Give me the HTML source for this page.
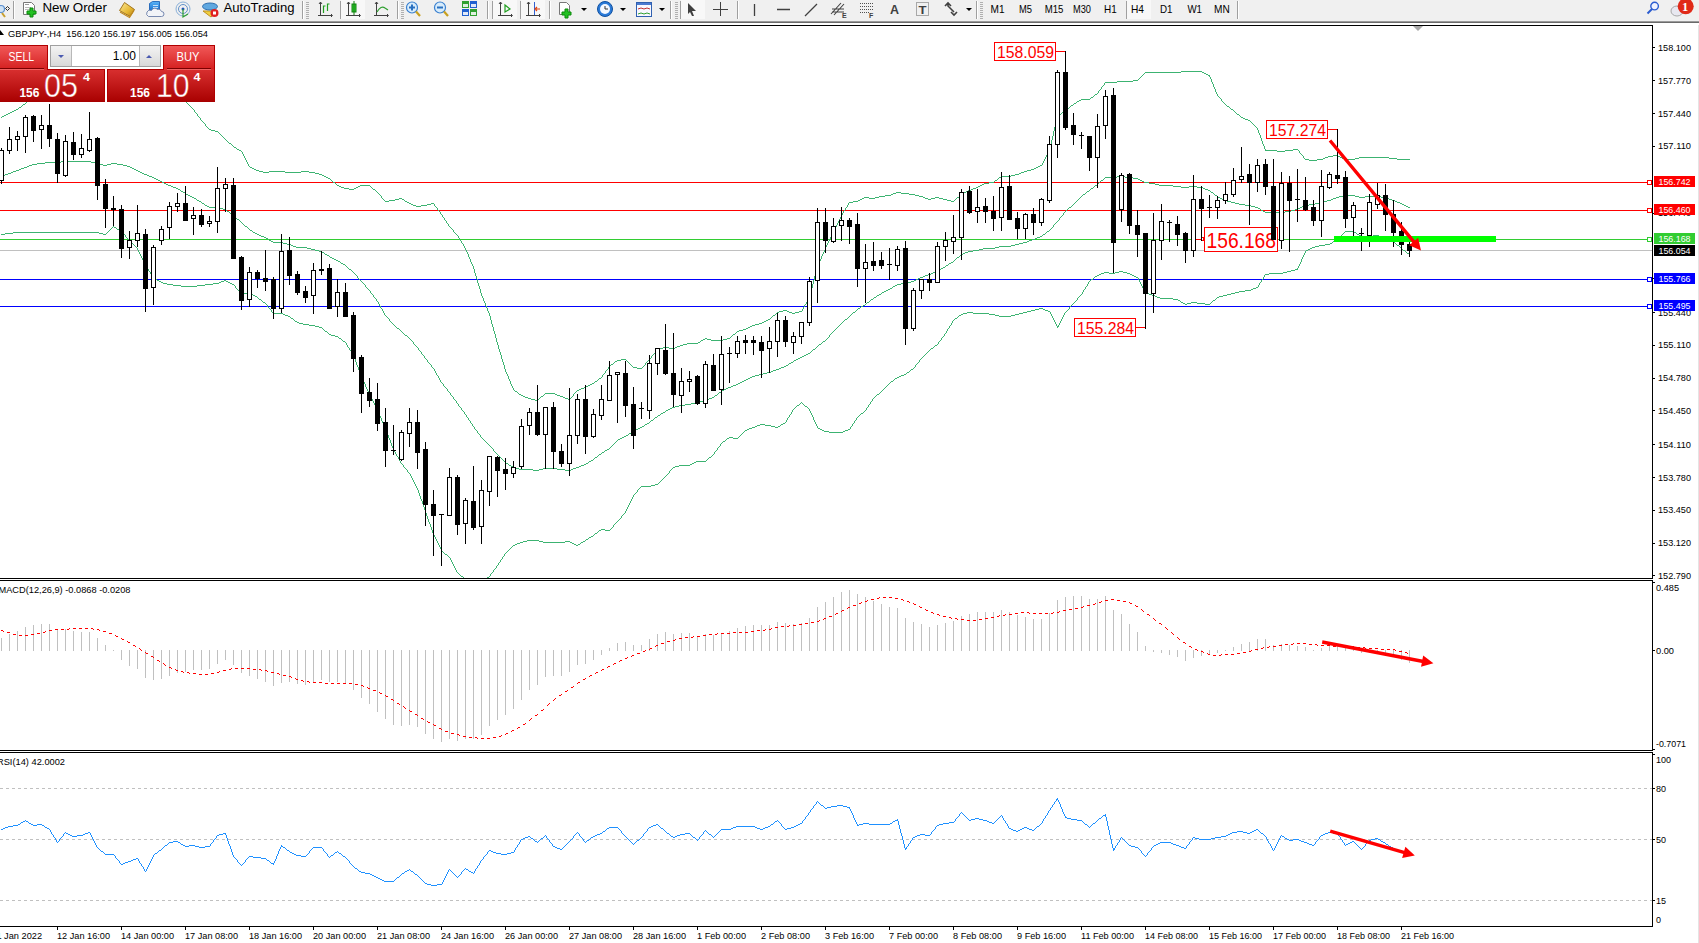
<!DOCTYPE html><html><head><meta charset="utf-8"><style>
html,body{margin:0;padding:0;width:1699px;height:943px;overflow:hidden;background:#fff;}
svg{display:block;position:absolute;left:0;top:0;}
text{font-family:"Liberation Sans",sans-serif;}
.serif{font-family:"Liberation Serif",serif;}
</style></head><body>
<svg width="1699" height="943" viewBox="0 0 1699 943">
<defs><clipPath id="cm"><rect x="0" y="26" width="1652" height="552"/></clipPath><clipPath id="cmacd"><rect x="0" y="581" width="1652" height="169"/></clipPath><clipPath id="crsi"><rect x="0" y="753" width="1652" height="173"/></clipPath><linearGradient id="gbtn" x1="0" y1="0" x2="0" y2="1"><stop offset="0" stop-color="#f25a5a"/><stop offset="1" stop-color="#d52121"/></linearGradient><linearGradient id="gprice" x1="0" y1="0" x2="0" y2="1"><stop offset="0" stop-color="#d93030"/><stop offset="1" stop-color="#a80000"/></linearGradient><linearGradient id="glot" x1="0" y1="0" x2="0" y2="1"><stop offset="0" stop-color="#f4f4f4"/><stop offset="1" stop-color="#d8d8d8"/></linearGradient></defs>
<rect x="0" y="0" width="1699" height="943" fill="#fff"/>
<g clip-path="url(#cm)" shape-rendering="crispEdges">
<rect x="0" y="182" width="1652" height="1" fill="#ff0000"/>
<rect x="0" y="210" width="1652" height="1" fill="#ff0000"/>
<rect x="0" y="239" width="1652" height="1" fill="#32cd32"/>
<rect x="0" y="250" width="1652" height="1" fill="#c0c0c0"/>
<rect x="0" y="279" width="1652" height="1" fill="#0000ff"/>
<rect x="0" y="306" width="1652" height="1" fill="#0000ff"/>
<rect x="1647.5" y="180.5" width="4" height="4" fill="#fff" stroke="#ff0000" stroke-width="1"/>
<rect x="1647.5" y="208.5" width="4" height="4" fill="#fff" stroke="#ff0000" stroke-width="1"/>
<rect x="1647.5" y="237.5" width="4" height="4" fill="#fff" stroke="#32cd32" stroke-width="1"/>
<rect x="1647.5" y="277.5" width="4" height="4" fill="#fff" stroke="#0000ff" stroke-width="1"/>
<rect x="1647.5" y="304.5" width="4" height="4" fill="#fff" stroke="#0000ff" stroke-width="1"/>
<path d="M2 116h2v1h-2zM4 115h2v1h-2zM6 114h2v1h-2zM8 113h2v1h-2zM10 112h2v1h-2zM12 111h2v1h-2zM14 110h2v1h-2zM16 109h2v1h-2zM19 107h2v1h-2zM23 104h2v1h-2zM27 101h2v1h-2zM31 98h2v1h-2zM34 96h2v1h-2zM37 94h2v1h-2zM39 93h2v1h-2zM42 91h2v1h-2zM44 90h2v1h-2zM46 89h2v1h-2zM48 88h3v1h-3zM51 87h2v1h-2zM53 86h3v1h-3zM56 85h3v1h-3zM59 84h2v1h-2zM61 83h3v1h-3zM64 82h3v1h-3zM67 81h4v1h-4zM71 80h4v1h-4zM75 79h4v1h-4zM79 78h6v1h-6zM85 77h8v1h-8zM93 76h8v1h-8zM101 75h8v1h-8zM109 74h16v1h-16zM125 75h8v1h-8zM133 76h8v1h-8zM141 77h8v1h-8zM149 78h6v1h-6zM155 79h4v1h-4zM159 80h3v1h-3zM162 81h2v1h-2zM165 83h2v1h-2zM167 84h2v1h-2zM171 87h2v1h-2zM175 90h2v1h-2zM209 129h2v1h-2zM211 130h4v1h-4zM215 131h3v1h-3zM229 143h2v1h-2zM234 147h2v1h-2zM237 149h2v1h-2zM239 150h2v1h-2zM250 167h2v1h-2zM252 168h2v1h-2zM254 169h2v1h-2zM256 170h3v1h-3zM259 171h4v1h-4zM263 172h6v1h-6zM269 171h16v1h-16zM285 172h16v1h-16zM301 171h8v1h-8zM309 172h6v1h-6zM315 173h4v1h-4zM319 174h3v1h-3zM322 175h2v1h-2zM324 176h2v1h-2zM326 177h2v1h-2zM328 178h2v1h-2zM333 182h2v1h-2zM337 185h2v1h-2zM339 186h2v1h-2zM341 187h3v1h-3zM344 188h5v1h-5zM349 189h5v1h-5zM354 188h2v1h-2zM356 187h2v1h-2zM358 186h2v1h-2zM360 185h10v1h-10zM373 189h2v1h-2zM385 201h4v1h-4zM389 200h6v1h-6zM395 199h4v1h-4zM399 198h3v1h-3zM402 199h2v1h-2zM405 201h2v1h-2zM407 202h2v1h-2zM409 203h2v1h-2zM411 204h2v1h-2zM413 205h3v1h-3zM416 206h5v1h-5zM421 205h6v1h-6zM427 204h4v1h-4zM431 203h3v1h-3zM515 391h2v1h-2zM519 394h2v1h-2zM521 395h2v1h-2zM523 396h2v1h-2zM525 397h3v1h-3zM528 398h3v1h-3zM531 399h4v1h-4zM535 400h3v1h-3zM541 396h2v1h-2zM545 393h10v1h-10zM555 394h2v1h-2zM557 395h3v1h-3zM560 396h3v1h-3zM563 397h2v1h-2zM565 398h3v1h-3zM568 399h2v1h-2zM577 390h2v1h-2zM579 389h2v1h-2zM581 388h3v1h-3zM584 387h2v1h-2zM586 386h2v1h-2zM588 385h2v1h-2zM590 384h2v1h-2zM592 383h2v1h-2zM595 381h2v1h-2zM599 378h2v1h-2zM611 364h2v1h-2zM615 361h2v1h-2zM617 360h4v1h-4zM621 359h5v1h-5zM633 367h4v1h-4zM637 368h5v1h-5zM657 349h2v1h-2zM659 348h4v1h-4zM663 347h6v1h-6zM669 348h6v1h-6zM675 347h2v1h-2zM677 346h3v1h-3zM680 345h3v1h-3zM683 344h4v1h-4zM687 343h11v1h-11zM698 342h2v1h-2zM701 340h2v1h-2zM703 339h2v1h-2zM705 338h2v1h-2zM707 339h4v1h-4zM711 340h12v1h-12zM723 339h4v1h-4zM727 338h3v1h-3zM733 334h2v1h-2zM737 331h2v1h-2zM739 330h4v1h-4zM743 329h3v1h-3zM746 328h2v1h-2zM748 327h2v1h-2zM750 326h2v1h-2zM752 325h3v1h-3zM755 324h4v1h-4zM759 323h3v1h-3zM762 322h2v1h-2zM764 321h2v1h-2zM766 320h2v1h-2zM768 319h2v1h-2zM773 315h2v1h-2zM777 312h2v1h-2zM779 311h4v1h-4zM783 310h4v1h-4zM787 311h2v1h-2zM789 312h3v1h-3zM792 313h3v1h-3zM795 312h4v1h-4zM799 311h3v1h-3zM849 202h4v1h-4zM853 201h5v1h-5zM858 200h2v1h-2zM860 199h2v1h-2zM862 198h2v1h-2zM864 197h5v1h-5zM869 198h6v1h-6zM875 197h4v1h-4zM879 196h6v1h-6zM885 195h6v1h-6zM891 194h2v1h-2zM893 193h3v1h-3zM896 192h5v1h-5zM901 193h8v1h-8zM909 194h6v1h-6zM915 195h4v1h-4zM919 196h4v1h-4zM923 197h2v1h-2zM925 198h3v1h-3zM928 199h3v1h-3zM931 198h4v1h-4zM935 197h4v1h-4zM939 198h4v1h-4zM943 199h4v1h-4zM947 200h4v1h-4zM951 201h3v1h-3zM957 197h2v1h-2zM962 193h2v1h-2zM964 192h2v1h-2zM966 191h2v1h-2zM968 190h3v1h-3zM971 189h2v1h-2zM973 188h3v1h-3zM976 187h2v1h-2zM978 186h2v1h-2zM980 185h2v1h-2zM982 184h2v1h-2zM984 183h5v1h-5zM989 182h5v1h-5zM995 180h2v1h-2zM999 177h2v1h-2zM1001 176h10v1h-10zM1011 175h4v1h-4zM1015 174h4v1h-4zM1019 173h2v1h-2zM1021 172h3v1h-3zM1024 171h3v1h-3zM1027 170h4v1h-4zM1031 169h3v1h-3zM1034 168h2v1h-2zM1036 167h2v1h-2zM1038 166h2v1h-2zM1040 165h2v1h-2zM1059 114h2v1h-2zM1063 111h2v1h-2zM1067 108h2v1h-2zM1071 105h2v1h-2zM1074 103h2v1h-2zM1077 101h2v1h-2zM1079 100h2v1h-2zM1081 99h9v1h-9zM1091 97h2v1h-2zM1095 94h2v1h-2zM1105 82h12v1h-12zM1117 81h16v1h-16zM1133 80h5v1h-5zM1145 72h36v1h-36zM1181 71h21v1h-21zM1202 72h2v1h-2zM1204 73h2v1h-2zM1206 74h2v1h-2zM1208 75h2v1h-2zM1227 106h2v1h-2zM1231 109h2v1h-2zM1237 114h2v1h-2zM1241 117h2v1h-2zM1243 118h2v1h-2zM1245 119h3v1h-3zM1248 120h2v1h-2zM1265 150h12v1h-12zM1277 151h8v1h-8zM1285 150h8v1h-8zM1293 149h5v1h-5zM1305 159h4v1h-4zM1309 160h8v1h-8zM1317 159h6v1h-6zM1323 158h2v1h-2zM1325 157h3v1h-3zM1328 156h5v1h-5zM1333 155h5v1h-5zM1338 156h2v1h-2zM1340 157h2v1h-2zM1342 158h2v1h-2zM1344 159h11v1h-11zM1355 158h4v1h-4zM1359 157h30v1h-30zM1389 158h8v1h-8zM1397 159h13v1h-13zM1 117h1v1h-1zM18 108h1v1h-1zM21 106h1v1h-1zM22 105h1v1h-1zM25 103h1v1h-1zM26 102h1v1h-1zM29 100h1v1h-1zM30 99h1v1h-1zM33 97h1v1h-1zM36 95h1v1h-1zM41 92h1v1h-1zM164 82h1v1h-1zM169 85h1v1h-1zM170 86h1v1h-1zM173 88h1v1h-1zM174 89h1v1h-1zM177 91h1v1h-1zM178 92h1v1h-1zM179 93h1v2h-1zM180 95h1v1h-1zM181 96h1v1h-1zM182 97h1v1h-1zM183 98h1v2h-1zM184 100h1v1h-1zM185 101h1v1h-1zM186 102h1v1h-1zM187 103h1v1h-1zM188 104h1v1h-1zM189 105h1v1h-1zM190 106h1v1h-1zM191 107h1v1h-1zM192 108h1v1h-1zM193 109h1v1h-1zM194 110h1v2h-1zM195 112h1v1h-1zM196 113h1v1h-1zM197 114h1v2h-1zM198 116h1v1h-1zM199 117h1v1h-1zM200 118h1v2h-1zM201 120h1v1h-1zM202 121h1v1h-1zM203 122h1v1h-1zM204 123h1v1h-1zM205 124h1v2h-1zM206 126h1v1h-1zM207 127h1v1h-1zM208 128h1v1h-1zM218 132h1v1h-1zM219 133h1v1h-1zM220 134h1v1h-1zM221 135h1v1h-1zM222 136h1v1h-1zM223 137h1v1h-1zM224 138h1v1h-1zM225 139h1v1h-1zM226 140h1v1h-1zM227 141h1v1h-1zM228 142h1v1h-1zM231 144h1v1h-1zM232 145h1v1h-1zM233 146h1v1h-1zM236 148h1v1h-1zM241 151h1v1h-1zM242 152h1v2h-1zM243 154h1v2h-1zM244 156h1v2h-1zM245 158h1v2h-1zM246 160h1v2h-1zM247 162h1v2h-1zM248 164h1v2h-1zM249 166h1v1h-1zM330 179h1v1h-1zM331 180h1v1h-1zM332 181h1v1h-1zM335 183h1v1h-1zM336 184h1v1h-1zM370 186h1v1h-1zM371 187h1v1h-1zM372 188h1v1h-1zM375 190h1v1h-1zM376 191h1v1h-1zM377 192h1v1h-1zM378 193h1v1h-1zM379 194h1v1h-1zM380 195h1v1h-1zM381 196h1v2h-1zM382 198h1v1h-1zM383 199h1v1h-1zM384 200h1v1h-1zM404 200h1v1h-1zM434 204h1v2h-1zM435 206h1v1h-1zM436 207h1v1h-1zM437 208h1v2h-1zM438 210h1v1h-1zM439 211h1v1h-1zM440 212h1v2h-1zM441 214h1v1h-1zM442 215h1v2h-1zM443 217h1v1h-1zM444 218h1v2h-1zM445 220h1v1h-1zM446 221h1v2h-1zM447 223h1v1h-1zM448 224h1v2h-1zM449 226h1v1h-1zM450 227h1v1h-1zM451 228h1v1h-1zM452 229h1v1h-1zM453 230h1v2h-1zM454 232h1v1h-1zM455 233h1v1h-1zM456 234h1v1h-1zM457 235h1v1h-1zM458 236h1v2h-1zM459 238h1v2h-1zM460 240h1v1h-1zM461 241h1v2h-1zM462 243h1v1h-1zM463 244h1v2h-1zM464 246h1v2h-1zM465 248h1v2h-1zM466 250h1v2h-1zM467 252h1v2h-1zM468 254h1v3h-1zM469 257h1v2h-1zM470 259h1v3h-1zM471 262h1v2h-1zM472 264h1v2h-1zM473 266h1v3h-1zM474 269h1v4h-1zM475 273h1v3h-1zM476 276h1v3h-1zM477 279h1v4h-1zM478 283h1v3h-1zM479 286h1v3h-1zM480 289h1v4h-1zM481 293h1v3h-1zM482 296h1v2h-1zM483 298h1v3h-1zM484 301h1v2h-1zM485 303h1v3h-1zM486 306h1v2h-1zM487 308h1v3h-1zM488 311h1v2h-1zM489 313h1v3h-1zM490 316h1v4h-1zM491 320h1v4h-1zM492 324h1v3h-1zM493 327h1v4h-1zM494 331h1v3h-1zM495 334h1v4h-1zM496 338h1v4h-1zM497 342h1v3h-1zM498 345h1v4h-1zM499 349h1v3h-1zM500 352h1v3h-1zM501 355h1v4h-1zM502 359h1v3h-1zM503 362h1v3h-1zM504 365h1v4h-1zM505 369h1v3h-1zM506 372h1v2h-1zM507 374h1v2h-1zM508 376h1v3h-1zM509 379h1v2h-1zM510 381h1v3h-1zM511 384h1v2h-1zM512 386h1v2h-1zM513 388h1v2h-1zM514 390h1v1h-1zM517 392h1v1h-1zM518 393h1v1h-1zM538 399h1v1h-1zM539 398h1v1h-1zM540 397h1v1h-1zM543 395h1v1h-1zM544 394h1v1h-1zM570 398h1v1h-1zM571 397h1v1h-1zM572 396h1v1h-1zM573 394h1v2h-1zM574 393h1v1h-1zM575 392h1v1h-1zM576 391h1v1h-1zM594 382h1v1h-1zM597 380h1v1h-1zM598 379h1v1h-1zM601 377h1v1h-1zM602 375h1v2h-1zM603 374h1v1h-1zM604 373h1v1h-1zM605 371h1v2h-1zM606 370h1v1h-1zM607 369h1v1h-1zM608 367h1v2h-1zM609 366h1v1h-1zM610 365h1v1h-1zM613 363h1v1h-1zM614 362h1v1h-1zM626 360h1v1h-1zM627 361h1v1h-1zM628 362h1v1h-1zM629 363h1v1h-1zM630 364h1v1h-1zM631 365h1v1h-1zM632 366h1v1h-1zM642 367h1v1h-1zM643 366h1v1h-1zM644 365h1v1h-1zM645 363h1v2h-1zM646 362h1v1h-1zM647 361h1v1h-1zM648 360h1v1h-1zM649 359h1v1h-1zM650 358h1v1h-1zM651 356h1v2h-1zM652 355h1v1h-1zM653 354h1v1h-1zM654 353h1v1h-1zM655 351h1v2h-1zM656 350h1v1h-1zM700 341h1v1h-1zM730 337h1v1h-1zM731 336h1v1h-1zM732 335h1v1h-1zM735 333h1v1h-1zM736 332h1v1h-1zM770 318h1v1h-1zM771 317h1v1h-1zM772 316h1v1h-1zM775 314h1v1h-1zM776 313h1v1h-1zM802 309h1v2h-1zM803 307h1v2h-1zM804 305h1v2h-1zM805 304h1v1h-1zM806 302h1v2h-1zM807 300h1v2h-1zM808 298h1v2h-1zM809 296h1v2h-1zM810 292h1v4h-1zM811 288h1v4h-1zM812 284h1v4h-1zM813 280h1v4h-1zM814 276h1v4h-1zM815 272h1v4h-1zM816 268h1v4h-1zM817 265h1v3h-1zM818 263h1v2h-1zM819 261h1v2h-1zM820 259h1v2h-1zM821 256h1v3h-1zM822 254h1v2h-1zM823 252h1v2h-1zM824 250h1v2h-1zM825 247h1v3h-1zM826 245h1v2h-1zM827 243h1v2h-1zM828 241h1v2h-1zM829 239h1v2h-1zM830 237h1v2h-1zM831 235h1v2h-1zM832 233h1v2h-1zM833 231h1v2h-1zM834 229h1v2h-1zM835 227h1v2h-1zM836 225h1v2h-1zM837 223h1v2h-1zM838 221h1v2h-1zM839 219h1v2h-1zM840 217h1v2h-1zM841 215h1v2h-1zM842 213h1v2h-1zM843 211h1v2h-1zM844 210h1v1h-1zM845 208h1v2h-1zM846 207h1v1h-1zM847 205h1v2h-1zM848 203h1v2h-1zM954 200h1v1h-1zM955 199h1v1h-1zM956 198h1v1h-1zM959 196h1v1h-1zM960 195h1v1h-1zM961 194h1v1h-1zM994 181h1v1h-1zM997 179h1v1h-1zM998 178h1v1h-1zM1042 163h1v2h-1zM1043 161h1v2h-1zM1044 159h1v2h-1zM1045 157h1v2h-1zM1046 155h1v2h-1zM1047 153h1v2h-1zM1048 151h1v2h-1zM1049 148h1v3h-1zM1050 144h1v4h-1zM1051 140h1v4h-1zM1052 136h1v4h-1zM1053 131h1v5h-1zM1054 127h1v4h-1zM1055 123h1v4h-1zM1056 119h1v4h-1zM1057 116h1v3h-1zM1058 115h1v1h-1zM1061 113h1v1h-1zM1062 112h1v1h-1zM1065 110h1v1h-1zM1066 109h1v1h-1zM1069 107h1v1h-1zM1070 106h1v1h-1zM1073 104h1v1h-1zM1076 102h1v1h-1zM1090 98h1v1h-1zM1093 96h1v1h-1zM1094 95h1v1h-1zM1097 93h1v1h-1zM1098 91h1v2h-1zM1099 90h1v1h-1zM1100 89h1v1h-1zM1101 87h1v2h-1zM1102 86h1v1h-1zM1103 85h1v1h-1zM1104 83h1v2h-1zM1138 79h1v1h-1zM1139 78h1v1h-1zM1140 77h1v1h-1zM1141 76h1v1h-1zM1142 75h1v1h-1zM1143 74h1v1h-1zM1144 73h1v1h-1zM1209 76h1v1h-1zM1210 77h1v2h-1zM1211 79h1v3h-1zM1212 82h1v2h-1zM1213 84h1v3h-1zM1214 87h1v2h-1zM1215 89h1v3h-1zM1216 92h1v2h-1zM1217 94h1v2h-1zM1218 96h1v1h-1zM1219 97h1v1h-1zM1220 98h1v1h-1zM1221 99h1v2h-1zM1222 101h1v1h-1zM1223 102h1v1h-1zM1224 103h1v1h-1zM1225 104h1v1h-1zM1226 105h1v1h-1zM1229 107h1v1h-1zM1230 108h1v1h-1zM1233 110h1v1h-1zM1234 111h1v1h-1zM1235 112h1v1h-1zM1236 113h1v1h-1zM1239 115h1v1h-1zM1240 116h1v1h-1zM1250 121h1v1h-1zM1251 122h1v1h-1zM1252 123h1v1h-1zM1253 124h1v1h-1zM1254 125h1v1h-1zM1255 126h1v1h-1zM1256 127h1v1h-1zM1257 128h1v2h-1zM1258 130h1v3h-1zM1259 133h1v2h-1zM1260 135h1v3h-1zM1261 138h1v3h-1zM1262 141h1v3h-1zM1263 144h1v2h-1zM1264 146h1v3h-1zM1265 149h1v1h-1zM1298 150h1v1h-1zM1299 151h1v2h-1zM1300 153h1v1h-1zM1301 154h1v1h-1zM1302 155h1v1h-1zM1303 156h1v2h-1zM1304 158h1v1h-1z" fill="#3cb371"/>
<path d="M1 176h2v1h-2zM3 175h2v1h-2zM5 174h3v1h-3zM8 173h3v1h-3zM11 172h2v1h-2zM13 171h3v1h-3zM16 170h3v1h-3zM19 169h2v1h-2zM21 168h3v1h-3zM24 167h3v1h-3zM27 166h2v1h-2zM29 165h3v1h-3zM32 164h5v1h-5zM37 163h8v1h-8zM45 162h16v1h-16zM61 161h30v1h-30zM91 162h4v1h-4zM95 163h4v1h-4zM99 164h4v1h-4zM103 165h4v1h-4zM107 164h4v1h-4zM111 163h6v1h-6zM117 164h6v1h-6zM123 165h4v1h-4zM127 166h3v1h-3zM130 167h2v1h-2zM132 168h2v1h-2zM134 169h2v1h-2zM136 170h2v1h-2zM138 171h2v1h-2zM140 172h2v1h-2zM142 173h2v1h-2zM144 174h3v1h-3zM147 175h2v1h-2zM149 176h3v1h-3zM152 177h2v1h-2zM154 178h2v1h-2zM156 179h2v1h-2zM158 180h2v1h-2zM160 181h2v1h-2zM162 182h2v1h-2zM164 183h2v1h-2zM166 184h2v1h-2zM168 185h3v1h-3zM171 186h2v1h-2zM173 187h3v1h-3zM176 188h2v1h-2zM178 189h2v1h-2zM181 191h2v1h-2zM183 192h2v1h-2zM186 194h2v1h-2zM188 195h2v1h-2zM190 196h2v1h-2zM192 197h2v1h-2zM194 198h2v1h-2zM197 200h2v1h-2zM199 201h2v1h-2zM202 203h2v1h-2zM205 205h2v1h-2zM207 206h2v1h-2zM209 207h10v1h-10zM219 208h4v1h-4zM223 209h3v1h-3zM227 211h2v1h-2zM231 214h2v1h-2zM237 219h2v1h-2zM245 226h2v1h-2zM250 230h2v1h-2zM253 232h2v1h-2zM255 233h2v1h-2zM257 234h2v1h-2zM259 235h2v1h-2zM261 236h3v1h-3zM264 237h2v1h-2zM266 238h2v1h-2zM269 240h2v1h-2zM271 241h2v1h-2zM273 242h10v1h-10zM283 243h4v1h-4zM287 244h4v1h-4zM291 245h2v1h-2zM293 246h3v1h-3zM296 247h11v1h-11zM307 248h4v1h-4zM311 249h4v1h-4zM315 250h4v1h-4zM319 251h3v1h-3zM322 252h2v1h-2zM325 254h2v1h-2zM327 255h2v1h-2zM330 257h2v1h-2zM332 258h2v1h-2zM334 259h2v1h-2zM336 260h2v1h-2zM338 261h2v1h-2zM341 263h2v1h-2zM343 264h2v1h-2zM349 269h2v1h-2zM397 328h2v1h-2zM405 335h2v1h-2zM506 463h2v1h-2zM509 465h2v1h-2zM511 466h2v1h-2zM513 467h2v1h-2zM515 468h4v1h-4zM519 469h14v1h-14zM533 470h6v1h-6zM539 469h4v1h-4zM543 468h14v1h-14zM557 469h8v1h-8zM565 470h6v1h-6zM571 469h2v1h-2zM573 468h3v1h-3zM576 467h3v1h-3zM579 466h2v1h-2zM581 465h3v1h-3zM584 464h2v1h-2zM586 463h2v1h-2zM589 461h2v1h-2zM591 460h2v1h-2zM595 457h2v1h-2zM599 454h2v1h-2zM602 452h2v1h-2zM605 450h2v1h-2zM607 449h2v1h-2zM618 439h2v1h-2zM620 438h2v1h-2zM622 437h2v1h-2zM624 436h2v1h-2zM626 435h2v1h-2zM629 433h2v1h-2zM631 432h2v1h-2zM634 430h2v1h-2zM636 429h2v1h-2zM638 428h2v1h-2zM640 427h2v1h-2zM642 426h2v1h-2zM645 424h2v1h-2zM647 423h2v1h-2zM651 420h2v1h-2zM655 417h2v1h-2zM658 415h2v1h-2zM661 413h2v1h-2zM663 412h2v1h-2zM666 410h2v1h-2zM668 409h2v1h-2zM670 408h2v1h-2zM672 407h3v1h-3zM675 406h4v1h-4zM679 405h6v1h-6zM685 404h6v1h-6zM691 403h4v1h-4zM695 402h4v1h-4zM699 401h4v1h-4zM703 400h4v1h-4zM707 399h2v1h-2zM709 398h3v1h-3zM712 397h2v1h-2zM715 395h2v1h-2zM719 392h2v1h-2zM722 390h2v1h-2zM724 389h2v1h-2zM726 388h2v1h-2zM728 387h3v1h-3zM731 386h2v1h-2zM733 385h3v1h-3zM736 384h2v1h-2zM738 383h2v1h-2zM740 382h2v1h-2zM742 381h2v1h-2zM744 380h2v1h-2zM746 379h2v1h-2zM748 378h2v1h-2zM750 377h2v1h-2zM752 376h3v1h-3zM755 375h4v1h-4zM759 374h4v1h-4zM763 373h4v1h-4zM767 372h4v1h-4zM771 371h2v1h-2zM773 370h3v1h-3zM776 369h3v1h-3zM779 368h2v1h-2zM781 367h3v1h-3zM784 366h2v1h-2zM786 365h2v1h-2zM789 363h2v1h-2zM791 362h2v1h-2zM794 360h2v1h-2zM796 359h2v1h-2zM798 358h2v1h-2zM800 357h2v1h-2zM802 356h2v1h-2zM804 355h2v1h-2zM806 354h2v1h-2zM808 353h2v1h-2zM813 349h2v1h-2zM819 344h2v1h-2zM823 341h2v1h-2zM845 319h2v1h-2zM853 312h2v1h-2zM858 308h2v1h-2zM861 306h2v1h-2zM863 305h2v1h-2zM867 302h2v1h-2zM871 299h2v1h-2zM874 297h2v1h-2zM877 295h2v1h-2zM879 294h2v1h-2zM882 292h2v1h-2zM884 291h2v1h-2zM886 290h2v1h-2zM888 289h2v1h-2zM890 288h2v1h-2zM893 286h2v1h-2zM895 285h2v1h-2zM897 284h4v1h-4zM901 283h6v1h-6zM907 282h4v1h-4zM911 281h3v1h-3zM914 280h2v1h-2zM916 279h2v1h-2zM918 278h2v1h-2zM920 277h3v1h-3zM923 276h2v1h-2zM925 275h3v1h-3zM928 274h3v1h-3zM931 273h2v1h-2zM933 272h3v1h-3zM936 271h2v1h-2zM938 270h2v1h-2zM941 268h2v1h-2zM943 267h2v1h-2zM946 265h2v1h-2zM949 263h2v1h-2zM951 262h2v1h-2zM957 257h2v1h-2zM961 254h2v1h-2zM963 253h2v1h-2zM965 252h3v1h-3zM968 251h5v1h-5zM973 250h6v1h-6zM979 249h4v1h-4zM983 248h12v1h-12zM995 247h4v1h-4zM999 246h12v1h-12zM1011 245h4v1h-4zM1015 244h4v1h-4zM1019 243h4v1h-4zM1023 242h4v1h-4zM1027 241h2v1h-2zM1029 240h3v1h-3zM1032 239h3v1h-3zM1035 238h2v1h-2zM1037 237h3v1h-3zM1040 236h2v1h-2zM1043 234h2v1h-2zM1047 231h2v1h-2zM1069 207h2v1h-2zM1083 194h2v1h-2zM1087 191h2v1h-2zM1091 188h2v1h-2zM1095 185h2v1h-2zM1101 180h2v1h-2zM1105 177h12v1h-12zM1117 176h8v1h-8zM1125 177h8v1h-8zM1133 178h5v1h-5zM1138 179h2v1h-2zM1140 180h2v1h-2zM1142 181h2v1h-2zM1144 182h5v1h-5zM1149 183h6v1h-6zM1155 184h4v1h-4zM1159 185h14v1h-14zM1173 186h8v1h-8zM1181 187h8v1h-8zM1189 186h8v1h-8zM1197 187h6v1h-6zM1203 188h2v1h-2zM1205 189h3v1h-3zM1208 190h2v1h-2zM1211 192h2v1h-2zM1215 195h2v1h-2zM1218 197h2v1h-2zM1220 198h2v1h-2zM1222 199h2v1h-2zM1224 200h3v1h-3zM1227 201h4v1h-4zM1231 202h4v1h-4zM1235 203h4v1h-4zM1239 204h6v1h-6zM1245 205h6v1h-6zM1251 206h4v1h-4zM1255 207h3v1h-3zM1258 208h2v1h-2zM1261 210h2v1h-2zM1263 211h2v1h-2zM1265 212h20v1h-20zM1285 211h6v1h-6zM1291 210h4v1h-4zM1295 209h3v1h-3zM1298 208h2v1h-2zM1300 207h2v1h-2zM1302 206h2v1h-2zM1304 205h5v1h-5zM1309 204h6v1h-6zM1315 203h4v1h-4zM1319 202h4v1h-4zM1323 201h4v1h-4zM1327 200h4v1h-4zM1331 199h2v1h-2zM1333 198h3v1h-3zM1336 197h3v1h-3zM1339 196h4v1h-4zM1343 195h12v1h-12zM1355 196h4v1h-4zM1359 197h6v1h-6zM1365 196h16v1h-16zM1381 197h6v1h-6zM1387 198h2v1h-2zM1389 199h3v1h-3zM1392 200h3v1h-3zM1395 201h2v1h-2zM1397 202h3v1h-3zM1400 203h2v1h-2zM1402 204h2v1h-2zM1404 205h2v1h-2zM1406 206h2v1h-2zM1408 207h2v1h-2zM180 190h1v1h-1zM185 193h1v1h-1zM196 199h1v1h-1zM201 202h1v1h-1zM204 204h1v1h-1zM226 210h1v1h-1zM229 212h1v1h-1zM230 213h1v1h-1zM233 215h1v1h-1zM234 216h1v1h-1zM235 217h1v1h-1zM236 218h1v1h-1zM239 220h1v1h-1zM240 221h1v1h-1zM241 222h1v1h-1zM242 223h1v1h-1zM243 224h1v1h-1zM244 225h1v1h-1zM247 227h1v1h-1zM248 228h1v1h-1zM249 229h1v1h-1zM252 231h1v1h-1zM268 239h1v1h-1zM324 253h1v1h-1zM329 256h1v1h-1zM340 262h1v1h-1zM345 265h1v1h-1zM346 266h1v1h-1zM347 267h1v1h-1zM348 268h1v1h-1zM351 270h1v1h-1zM352 271h1v1h-1zM353 272h1v1h-1zM354 273h1v1h-1zM355 274h1v1h-1zM356 275h1v1h-1zM357 276h1v2h-1zM358 278h1v1h-1zM359 279h1v1h-1zM360 280h1v1h-1zM361 281h1v1h-1zM362 282h1v1h-1zM363 283h1v1h-1zM364 284h1v1h-1zM365 285h1v2h-1zM366 287h1v1h-1zM367 288h1v1h-1zM368 289h1v1h-1zM369 290h1v1h-1zM370 291h1v2h-1zM371 293h1v1h-1zM372 294h1v1h-1zM373 295h1v2h-1zM374 297h1v1h-1zM375 298h1v1h-1zM376 299h1v2h-1zM377 301h1v1h-1zM378 302h1v2h-1zM379 304h1v2h-1zM380 306h1v2h-1zM381 308h1v1h-1zM382 309h1v2h-1zM383 311h1v2h-1zM384 313h1v2h-1zM385 315h1v1h-1zM386 316h1v1h-1zM387 317h1v1h-1zM388 318h1v1h-1zM389 319h1v2h-1zM390 321h1v1h-1zM391 322h1v1h-1zM392 323h1v1h-1zM393 324h1v1h-1zM394 325h1v1h-1zM395 326h1v1h-1zM396 327h1v1h-1zM399 329h1v1h-1zM400 330h1v1h-1zM401 331h1v1h-1zM402 332h1v1h-1zM403 333h1v1h-1zM404 334h1v1h-1zM407 336h1v1h-1zM408 337h1v1h-1zM409 338h1v1h-1zM410 339h1v1h-1zM411 340h1v1h-1zM412 341h1v1h-1zM413 342h1v2h-1zM414 344h1v1h-1zM415 345h1v1h-1zM416 346h1v1h-1zM417 347h1v1h-1zM418 348h1v2h-1zM419 350h1v1h-1zM420 351h1v1h-1zM421 352h1v2h-1zM422 354h1v1h-1zM423 355h1v1h-1zM424 356h1v2h-1zM425 358h1v1h-1zM426 359h1v1h-1zM427 360h1v2h-1zM428 362h1v1h-1zM429 363h1v1h-1zM430 364h1v1h-1zM431 365h1v2h-1zM432 367h1v1h-1zM433 368h1v1h-1zM434 369h1v2h-1zM435 371h1v2h-1zM436 373h1v2h-1zM437 375h1v1h-1zM438 376h1v2h-1zM439 378h1v2h-1zM440 380h1v2h-1zM441 382h1v1h-1zM442 383h1v1h-1zM443 384h1v2h-1zM444 386h1v1h-1zM445 387h1v1h-1zM446 388h1v1h-1zM447 389h1v2h-1zM448 391h1v1h-1zM449 392h1v1h-1zM450 393h1v2h-1zM451 395h1v1h-1zM452 396h1v1h-1zM453 397h1v2h-1zM454 399h1v1h-1zM455 400h1v1h-1zM456 401h1v2h-1zM457 403h1v1h-1zM458 404h1v2h-1zM459 406h1v1h-1zM460 407h1v1h-1zM461 408h1v2h-1zM462 410h1v1h-1zM463 411h1v1h-1zM464 412h1v2h-1zM465 414h1v1h-1zM466 415h1v2h-1zM467 417h1v1h-1zM468 418h1v2h-1zM469 420h1v1h-1zM470 421h1v2h-1zM471 423h1v1h-1zM472 424h1v2h-1zM473 426h1v1h-1zM474 427h1v2h-1zM475 429h1v1h-1zM476 430h1v1h-1zM477 431h1v2h-1zM478 433h1v1h-1zM479 434h1v1h-1zM480 435h1v2h-1zM481 437h1v1h-1zM482 438h1v1h-1zM483 439h1v1h-1zM484 440h1v1h-1zM485 441h1v1h-1zM486 442h1v1h-1zM487 443h1v1h-1zM488 444h1v1h-1zM489 445h1v1h-1zM490 446h1v1h-1zM491 447h1v1h-1zM492 448h1v1h-1zM493 449h1v2h-1zM494 451h1v1h-1zM495 452h1v1h-1zM496 453h1v1h-1zM497 454h1v1h-1zM498 455h1v1h-1zM499 456h1v1h-1zM500 457h1v1h-1zM501 458h1v1h-1zM502 459h1v1h-1zM503 460h1v1h-1zM504 461h1v1h-1zM505 462h1v1h-1zM508 464h1v1h-1zM588 462h1v1h-1zM593 459h1v1h-1zM594 458h1v1h-1zM597 456h1v1h-1zM598 455h1v1h-1zM601 453h1v1h-1zM604 451h1v1h-1zM609 448h1v1h-1zM610 447h1v1h-1zM611 446h1v1h-1zM612 445h1v1h-1zM613 444h1v1h-1zM614 443h1v1h-1zM615 442h1v1h-1zM616 441h1v1h-1zM617 440h1v1h-1zM628 434h1v1h-1zM633 431h1v1h-1zM644 425h1v1h-1zM649 422h1v1h-1zM650 421h1v1h-1zM653 419h1v1h-1zM654 418h1v1h-1zM657 416h1v1h-1zM660 414h1v1h-1zM665 411h1v1h-1zM714 396h1v1h-1zM717 394h1v1h-1zM718 393h1v1h-1zM721 391h1v1h-1zM788 364h1v1h-1zM793 361h1v1h-1zM810 352h1v1h-1zM811 351h1v1h-1zM812 350h1v1h-1zM815 348h1v1h-1zM816 347h1v1h-1zM817 346h1v1h-1zM818 345h1v1h-1zM821 343h1v1h-1zM822 342h1v1h-1zM825 340h1v1h-1zM826 339h1v1h-1zM827 338h1v1h-1zM828 337h1v1h-1zM829 335h1v2h-1zM830 334h1v1h-1zM831 333h1v1h-1zM832 332h1v1h-1zM833 331h1v1h-1zM834 330h1v1h-1zM835 329h1v1h-1zM836 328h1v1h-1zM837 327h1v1h-1zM838 326h1v1h-1zM839 325h1v1h-1zM840 324h1v1h-1zM841 323h1v1h-1zM842 322h1v1h-1zM843 321h1v1h-1zM844 320h1v1h-1zM847 318h1v1h-1zM848 317h1v1h-1zM849 316h1v1h-1zM850 315h1v1h-1zM851 314h1v1h-1zM852 313h1v1h-1zM855 311h1v1h-1zM856 310h1v1h-1zM857 309h1v1h-1zM860 307h1v1h-1zM865 304h1v1h-1zM866 303h1v1h-1zM869 301h1v1h-1zM870 300h1v1h-1zM873 298h1v1h-1zM876 296h1v1h-1zM881 293h1v1h-1zM892 287h1v1h-1zM940 269h1v1h-1zM945 266h1v1h-1zM948 264h1v1h-1zM953 261h1v1h-1zM954 260h1v1h-1zM955 259h1v1h-1zM956 258h1v1h-1zM959 256h1v1h-1zM960 255h1v1h-1zM1042 235h1v1h-1zM1045 233h1v1h-1zM1046 232h1v1h-1zM1049 230h1v1h-1zM1050 229h1v1h-1zM1051 228h1v1h-1zM1052 227h1v1h-1zM1053 225h1v2h-1zM1054 224h1v1h-1zM1055 223h1v1h-1zM1056 222h1v1h-1zM1057 221h1v1h-1zM1058 220h1v1h-1zM1059 218h1v2h-1zM1060 217h1v1h-1zM1061 216h1v1h-1zM1062 215h1v1h-1zM1063 213h1v2h-1zM1064 212h1v1h-1zM1065 211h1v1h-1zM1066 210h1v1h-1zM1067 209h1v1h-1zM1068 208h1v1h-1zM1071 206h1v1h-1zM1072 205h1v1h-1zM1073 204h1v1h-1zM1074 203h1v1h-1zM1075 202h1v1h-1zM1076 201h1v1h-1zM1077 200h1v1h-1zM1078 199h1v1h-1zM1079 198h1v1h-1zM1080 197h1v1h-1zM1081 196h1v1h-1zM1082 195h1v1h-1zM1085 193h1v1h-1zM1086 192h1v1h-1zM1089 190h1v1h-1zM1090 189h1v1h-1zM1093 187h1v1h-1zM1094 186h1v1h-1zM1097 184h1v1h-1zM1098 183h1v1h-1zM1099 182h1v1h-1zM1100 181h1v1h-1zM1103 179h1v1h-1zM1104 178h1v1h-1zM1210 191h1v1h-1zM1213 193h1v1h-1zM1214 194h1v1h-1zM1217 196h1v1h-1zM1260 209h1v1h-1z" fill="#3cb371"/>
<path d="M1 234h4v1h-4zM5 233h8v1h-8zM13 232h86v1h-86zM99 233h4v1h-4zM103 234h3v1h-3zM114 227h2v1h-2zM117 229h2v1h-2zM119 230h2v1h-2zM154 278h2v1h-2zM157 280h2v1h-2zM159 281h2v1h-2zM161 282h2v1h-2zM163 283h4v1h-4zM167 284h6v1h-6zM173 285h8v1h-8zM181 286h16v1h-16zM197 285h8v1h-8zM205 284h8v1h-8zM213 283h6v1h-6zM219 282h2v1h-2zM221 281h3v1h-3zM224 280h2v1h-2zM226 281h2v1h-2zM228 282h2v1h-2zM230 283h2v1h-2zM232 284h2v1h-2zM241 294h2v1h-2zM243 293h4v1h-4zM247 292h3v1h-3zM250 293h2v1h-2zM253 295h2v1h-2zM255 296h2v1h-2zM259 299h2v1h-2zM263 302h2v1h-2zM273 313h10v1h-10zM283 314h2v1h-2zM285 315h3v1h-3zM288 316h2v1h-2zM291 318h2v1h-2zM295 321h2v1h-2zM297 322h2v1h-2zM299 323h4v1h-4zM303 324h6v1h-6zM309 325h6v1h-6zM315 326h4v1h-4zM319 327h3v1h-3zM325 331h2v1h-2zM329 334h2v1h-2zM331 335h4v1h-4zM335 336h3v1h-3zM339 338h2v1h-2zM343 341h2v1h-2zM445 554h2v1h-2zM461 576h2v1h-2zM467 581h2v1h-2zM471 584h2v1h-2zM474 584h2v1h-2zM476 583h2v1h-2zM478 582h2v1h-2zM480 581h2v1h-2zM482 580h2v1h-2zM485 578h2v1h-2zM487 577h2v1h-2zM513 545h2v1h-2zM515 544h2v1h-2zM517 543h3v1h-3zM520 542h3v1h-3zM523 541h4v1h-4zM527 540h12v1h-12zM539 541h4v1h-4zM543 542h22v1h-22zM565 541h5v1h-5zM570 542h2v1h-2zM572 543h2v1h-2zM574 544h2v1h-2zM576 545h2v1h-2zM578 544h2v1h-2zM581 542h2v1h-2zM583 541h2v1h-2zM586 539h2v1h-2zM589 537h2v1h-2zM591 536h2v1h-2zM595 533h2v1h-2zM599 530h2v1h-2zM601 529h4v1h-4zM605 530h5v1h-5zM641 486h10v1h-10zM651 485h4v1h-4zM655 484h3v1h-3zM673 467h2v1h-2zM675 466h4v1h-4zM679 465h11v1h-11zM690 464h2v1h-2zM692 463h2v1h-2zM694 462h2v1h-2zM696 461h10v1h-10zM709 457h2v1h-2zM723 441h2v1h-2zM727 438h2v1h-2zM729 437h4v1h-4zM733 438h5v1h-5zM745 430h2v1h-2zM747 429h2v1h-2zM749 428h3v1h-3zM752 427h3v1h-3zM755 426h2v1h-2zM757 425h3v1h-3zM760 424h5v1h-5zM765 425h6v1h-6zM771 426h4v1h-4zM775 427h3v1h-3zM778 426h2v1h-2zM781 424h2v1h-2zM783 423h2v1h-2zM797 405h2v1h-2zM805 406h2v1h-2zM818 428h2v1h-2zM820 429h2v1h-2zM822 430h2v1h-2zM824 431h5v1h-5zM829 432h14v1h-14zM843 431h2v1h-2zM845 430h3v1h-3zM848 429h2v1h-2zM861 413h2v1h-2zM877 394h2v1h-2zM891 381h2v1h-2zM895 378h2v1h-2zM897 377h2v1h-2zM899 376h2v1h-2zM901 375h3v1h-3zM904 374h2v1h-2zM907 372h2v1h-2zM911 369h2v1h-2zM931 348h2v1h-2zM935 345h2v1h-2zM955 318h2v1h-2zM959 315h2v1h-2zM961 314h2v1h-2zM963 313h4v1h-4zM967 312h6v1h-6zM973 313h16v1h-16zM989 314h6v1h-6zM995 315h4v1h-4zM999 316h12v1h-12zM1011 315h4v1h-4zM1015 314h4v1h-4zM1019 313h4v1h-4zM1023 312h4v1h-4zM1027 311h4v1h-4zM1031 310h4v1h-4zM1035 309h4v1h-4zM1039 308h4v1h-4zM1043 309h2v1h-2zM1045 310h3v1h-3zM1048 311h2v1h-2zM1057 326h2v1h-2zM1091 279h2v1h-2zM1095 276h2v1h-2zM1097 275h2v1h-2zM1099 274h2v1h-2zM1101 273h3v1h-3zM1104 272h5v1h-5zM1109 273h6v1h-6zM1115 272h4v1h-4zM1119 271h4v1h-4zM1123 272h4v1h-4zM1127 273h3v1h-3zM1130 274h2v1h-2zM1132 275h2v1h-2zM1134 276h2v1h-2zM1136 277h2v1h-2zM1145 292h2v1h-2zM1147 293h2v1h-2zM1149 294h3v1h-3zM1152 295h3v1h-3zM1155 296h2v1h-2zM1157 297h3v1h-3zM1160 298h13v1h-13zM1173 299h5v1h-5zM1178 300h2v1h-2zM1181 302h2v1h-2zM1183 303h2v1h-2zM1185 304h2v1h-2zM1187 303h4v1h-4zM1191 302h6v1h-6zM1197 303h8v1h-8zM1205 304h5v1h-5zM1213 300h2v1h-2zM1217 297h2v1h-2zM1219 296h4v1h-4zM1223 295h4v1h-4zM1227 294h4v1h-4zM1231 293h4v1h-4zM1235 292h4v1h-4zM1239 291h6v1h-6zM1245 290h6v1h-6zM1251 289h2v1h-2zM1253 288h3v1h-3zM1256 287h2v1h-2zM1265 274h4v1h-4zM1269 273h14v1h-14zM1283 272h4v1h-4zM1287 271h4v1h-4zM1291 270h4v1h-4zM1295 269h3v1h-3zM1306 250h2v1h-2zM1308 249h2v1h-2zM1310 248h2v1h-2zM1312 247h3v1h-3zM1315 246h4v1h-4zM1319 245h6v1h-6zM1325 244h5v1h-5zM1330 243h2v1h-2zM1333 241h2v1h-2zM1335 240h2v1h-2zM1345 231h9v1h-9zM1354 232h2v1h-2zM1357 234h2v1h-2zM1359 235h2v1h-2zM1361 236h12v1h-12zM1373 235h6v1h-6zM1379 236h4v1h-4zM1383 237h3v1h-3zM1386 238h2v1h-2zM1388 239h2v1h-2zM1390 240h2v1h-2zM1392 241h2v1h-2zM1397 245h2v1h-2zM1403 250h2v1h-2zM1407 253h2v1h-2zM106 233h1v1h-1zM107 232h1v1h-1zM108 231h1v1h-1zM109 230h1v1h-1zM110 229h1v1h-1zM111 228h1v1h-1zM112 227h1v1h-1zM113 226h1v1h-1zM116 228h1v1h-1zM121 231h1v1h-1zM122 232h1v1h-1zM123 233h1v1h-1zM124 234h1v1h-1zM125 235h1v2h-1zM126 237h1v1h-1zM127 238h1v1h-1zM128 239h1v1h-1zM129 240h1v1h-1zM130 241h1v1h-1zM131 242h1v1h-1zM132 243h1v1h-1zM133 244h1v1h-1zM134 245h1v1h-1zM135 246h1v1h-1zM136 247h1v1h-1zM137 248h1v2h-1zM138 250h1v2h-1zM139 252h1v2h-1zM140 254h1v2h-1zM141 256h1v2h-1zM142 258h1v2h-1zM143 260h1v2h-1zM144 262h1v2h-1zM145 264h1v2h-1zM146 266h1v2h-1zM147 268h1v1h-1zM148 269h1v2h-1zM149 271h1v1h-1zM150 272h1v2h-1zM151 274h1v1h-1zM152 275h1v2h-1zM153 277h1v1h-1zM156 279h1v1h-1zM234 285h1v1h-1zM235 286h1v2h-1zM236 288h1v1h-1zM237 289h1v1h-1zM238 290h1v1h-1zM239 291h1v2h-1zM240 293h1v1h-1zM252 294h1v1h-1zM257 297h1v1h-1zM258 298h1v1h-1zM261 300h1v1h-1zM262 301h1v1h-1zM265 303h1v1h-1zM266 304h1v1h-1zM267 305h1v2h-1zM268 307h1v1h-1zM269 308h1v1h-1zM270 309h1v1h-1zM271 310h1v2h-1zM272 312h1v1h-1zM290 317h1v1h-1zM293 319h1v1h-1zM294 320h1v1h-1zM322 328h1v1h-1zM323 329h1v1h-1zM324 330h1v1h-1zM327 332h1v1h-1zM328 333h1v1h-1zM338 337h1v1h-1zM341 339h1v1h-1zM342 340h1v1h-1zM345 342h1v1h-1zM346 343h1v2h-1zM347 345h1v2h-1zM348 347h1v1h-1zM349 348h1v2h-1zM350 350h1v1h-1zM351 351h1v2h-1zM352 353h1v2h-1zM353 355h1v2h-1zM354 357h1v2h-1zM355 359h1v3h-1zM356 362h1v3h-1zM357 365h1v2h-1zM358 367h1v3h-1zM359 370h1v3h-1zM360 373h1v2h-1zM361 375h1v3h-1zM362 378h1v2h-1zM363 380h1v2h-1zM364 382h1v2h-1zM365 384h1v3h-1zM366 387h1v2h-1zM367 389h1v2h-1zM368 391h1v2h-1zM369 393h1v2h-1zM370 395h1v2h-1zM371 397h1v2h-1zM372 399h1v2h-1zM373 401h1v2h-1zM374 403h1v2h-1zM375 405h1v2h-1zM376 407h1v2h-1zM377 409h1v3h-1zM378 412h1v2h-1zM379 414h1v2h-1zM380 416h1v2h-1zM381 418h1v3h-1zM382 421h1v2h-1zM383 423h1v2h-1zM384 425h1v2h-1zM385 427h1v3h-1zM386 430h1v2h-1zM387 432h1v3h-1zM388 435h1v3h-1zM389 438h1v2h-1zM390 440h1v3h-1zM391 443h1v3h-1zM392 446h1v2h-1zM393 448h1v2h-1zM394 450h1v2h-1zM395 452h1v2h-1zM396 454h1v2h-1zM397 456h1v1h-1zM398 457h1v2h-1zM399 459h1v2h-1zM400 461h1v2h-1zM401 463h1v1h-1zM402 464h1v1h-1zM403 465h1v2h-1zM404 467h1v1h-1zM405 468h1v1h-1zM406 469h1v1h-1zM407 470h1v2h-1zM408 472h1v1h-1zM409 473h1v1h-1zM410 474h1v2h-1zM411 476h1v2h-1zM412 478h1v2h-1zM413 480h1v2h-1zM414 482h1v2h-1zM415 484h1v2h-1zM416 486h1v2h-1zM417 488h1v2h-1zM418 490h1v3h-1zM419 493h1v3h-1zM420 496h1v3h-1zM421 499h1v2h-1zM422 501h1v3h-1zM423 504h1v3h-1zM424 507h1v3h-1zM425 510h1v3h-1zM426 513h1v3h-1zM427 516h1v3h-1zM428 519h1v3h-1zM429 522h1v2h-1zM430 524h1v3h-1zM431 527h1v3h-1zM432 530h1v3h-1zM433 533h1v2h-1zM434 535h1v2h-1zM435 537h1v2h-1zM436 539h1v2h-1zM437 541h1v2h-1zM438 543h1v2h-1zM439 545h1v2h-1zM440 547h1v2h-1zM441 549h1v2h-1zM442 551h1v1h-1zM443 552h1v1h-1zM444 553h1v1h-1zM447 555h1v1h-1zM448 556h1v1h-1zM449 557h1v1h-1zM450 558h1v2h-1zM451 560h1v2h-1zM452 562h1v2h-1zM453 564h1v2h-1zM454 566h1v2h-1zM455 568h1v2h-1zM456 570h1v2h-1zM457 572h1v1h-1zM458 573h1v1h-1zM459 574h1v1h-1zM460 575h1v1h-1zM463 577h1v1h-1zM464 578h1v1h-1zM465 579h1v1h-1zM466 580h1v1h-1zM469 582h1v1h-1zM470 583h1v1h-1zM473 585h1v1h-1zM484 579h1v1h-1zM489 576h1v1h-1zM490 574h1v2h-1zM491 573h1v1h-1zM492 572h1v1h-1zM493 570h1v2h-1zM494 569h1v1h-1zM495 568h1v1h-1zM496 566h1v2h-1zM497 565h1v1h-1zM498 563h1v2h-1zM499 562h1v1h-1zM500 560h1v2h-1zM501 559h1v1h-1zM502 557h1v2h-1zM503 556h1v1h-1zM504 554h1v2h-1zM505 553h1v1h-1zM506 552h1v1h-1zM507 551h1v1h-1zM508 550h1v1h-1zM509 549h1v1h-1zM510 548h1v1h-1zM511 547h1v1h-1zM512 546h1v1h-1zM580 543h1v1h-1zM585 540h1v1h-1zM588 538h1v1h-1zM593 535h1v1h-1zM594 534h1v1h-1zM597 532h1v1h-1zM598 531h1v1h-1zM610 529h1v1h-1zM611 528h1v1h-1zM612 527h1v1h-1zM613 525h1v2h-1zM614 524h1v1h-1zM615 523h1v1h-1zM616 522h1v1h-1zM617 521h1v1h-1zM618 520h1v1h-1zM619 519h1v1h-1zM620 518h1v1h-1zM621 516h1v2h-1zM622 515h1v1h-1zM623 514h1v1h-1zM624 513h1v1h-1zM625 511h1v2h-1zM626 509h1v2h-1zM627 507h1v2h-1zM628 505h1v2h-1zM629 503h1v2h-1zM630 501h1v2h-1zM631 499h1v2h-1zM632 497h1v2h-1zM633 495h1v2h-1zM634 494h1v1h-1zM635 493h1v1h-1zM636 492h1v1h-1zM637 490h1v2h-1zM638 489h1v1h-1zM639 488h1v1h-1zM640 487h1v1h-1zM658 483h1v1h-1zM659 482h1v1h-1zM660 481h1v1h-1zM661 480h1v1h-1zM662 479h1v1h-1zM663 478h1v1h-1zM664 477h1v1h-1zM665 476h1v1h-1zM666 475h1v1h-1zM667 474h1v1h-1zM668 473h1v1h-1zM669 471h1v2h-1zM670 470h1v1h-1zM671 469h1v1h-1zM672 468h1v1h-1zM706 460h1v1h-1zM707 459h1v1h-1zM708 458h1v1h-1zM711 456h1v1h-1zM712 455h1v1h-1zM713 454h1v1h-1zM714 452h1v2h-1zM715 451h1v1h-1zM716 450h1v1h-1zM717 448h1v2h-1zM718 447h1v1h-1zM719 446h1v1h-1zM720 444h1v2h-1zM721 443h1v1h-1zM722 442h1v1h-1zM725 440h1v1h-1zM726 439h1v1h-1zM738 437h1v1h-1zM739 436h1v1h-1zM740 435h1v1h-1zM741 434h1v1h-1zM742 433h1v1h-1zM743 432h1v1h-1zM744 431h1v1h-1zM780 425h1v1h-1zM785 422h1v1h-1zM786 420h1v2h-1zM787 418h1v2h-1zM788 417h1v1h-1zM789 415h1v2h-1zM790 414h1v1h-1zM791 412h1v2h-1zM792 410h1v2h-1zM793 409h1v1h-1zM794 408h1v1h-1zM795 407h1v1h-1zM796 406h1v1h-1zM799 404h1v1h-1zM800 403h1v1h-1zM801 402h1v1h-1zM802 403h1v1h-1zM803 404h1v1h-1zM804 405h1v1h-1zM807 407h1v1h-1zM808 408h1v1h-1zM809 409h1v2h-1zM810 411h1v2h-1zM811 413h1v2h-1zM812 415h1v2h-1zM813 417h1v3h-1zM814 420h1v2h-1zM815 422h1v2h-1zM816 424h1v2h-1zM817 426h1v2h-1zM850 427h1v2h-1zM851 426h1v1h-1zM852 424h1v2h-1zM853 423h1v1h-1zM854 421h1v2h-1zM855 420h1v1h-1zM856 418h1v2h-1zM857 417h1v1h-1zM858 416h1v1h-1zM859 415h1v1h-1zM860 414h1v1h-1zM863 412h1v1h-1zM864 411h1v1h-1zM865 410h1v1h-1zM866 408h1v2h-1zM867 407h1v1h-1zM868 405h1v2h-1zM869 404h1v1h-1zM870 402h1v2h-1zM871 401h1v1h-1zM872 399h1v2h-1zM873 398h1v1h-1zM874 397h1v1h-1zM875 396h1v1h-1zM876 395h1v1h-1zM879 393h1v1h-1zM880 392h1v1h-1zM881 391h1v1h-1zM882 390h1v1h-1zM883 389h1v1h-1zM884 388h1v1h-1zM885 387h1v1h-1zM886 386h1v1h-1zM887 385h1v1h-1zM888 384h1v1h-1zM889 383h1v1h-1zM890 382h1v1h-1zM893 380h1v1h-1zM894 379h1v1h-1zM906 373h1v1h-1zM909 371h1v1h-1zM910 370h1v1h-1zM913 368h1v1h-1zM914 367h1v1h-1zM915 365h1v2h-1zM916 364h1v1h-1zM917 363h1v1h-1zM918 362h1v1h-1zM919 360h1v2h-1zM920 359h1v1h-1zM921 358h1v1h-1zM922 357h1v1h-1zM923 356h1v1h-1zM924 355h1v1h-1zM925 354h1v1h-1zM926 353h1v1h-1zM927 352h1v1h-1zM928 351h1v1h-1zM929 350h1v1h-1zM930 349h1v1h-1zM933 347h1v1h-1zM934 346h1v1h-1zM937 344h1v1h-1zM938 342h1v2h-1zM939 341h1v1h-1zM940 340h1v1h-1zM941 338h1v2h-1zM942 337h1v1h-1zM943 336h1v1h-1zM944 334h1v2h-1zM945 333h1v1h-1zM946 331h1v2h-1zM947 329h1v2h-1zM948 328h1v1h-1zM949 326h1v2h-1zM950 325h1v1h-1zM951 323h1v2h-1zM952 321h1v2h-1zM953 320h1v1h-1zM954 319h1v1h-1zM957 317h1v1h-1zM958 316h1v1h-1zM1050 312h1v2h-1zM1051 314h1v2h-1zM1052 316h1v2h-1zM1053 318h1v2h-1zM1054 320h1v2h-1zM1055 322h1v2h-1zM1056 324h1v2h-1zM1057 327h1v1h-1zM1058 325h1v1h-1zM1059 323h1v2h-1zM1060 321h1v2h-1zM1061 319h1v2h-1zM1062 317h1v2h-1zM1063 315h1v2h-1zM1064 313h1v2h-1zM1065 312h1v1h-1zM1066 311h1v1h-1zM1067 310h1v1h-1zM1068 309h1v1h-1zM1069 307h1v2h-1zM1070 306h1v1h-1zM1071 305h1v1h-1zM1072 304h1v1h-1zM1073 303h1v1h-1zM1074 302h1v1h-1zM1075 301h1v1h-1zM1076 300h1v1h-1zM1077 298h1v2h-1zM1078 297h1v1h-1zM1079 296h1v1h-1zM1080 295h1v1h-1zM1081 294h1v1h-1zM1082 292h1v2h-1zM1083 290h1v2h-1zM1084 289h1v1h-1zM1085 287h1v2h-1zM1086 286h1v1h-1zM1087 284h1v2h-1zM1088 282h1v2h-1zM1089 281h1v1h-1zM1090 280h1v1h-1zM1093 278h1v1h-1zM1094 277h1v1h-1zM1138 278h1v2h-1zM1139 280h1v2h-1zM1140 282h1v2h-1zM1141 284h1v2h-1zM1142 286h1v2h-1zM1143 288h1v2h-1zM1144 290h1v2h-1zM1180 301h1v1h-1zM1210 303h1v1h-1zM1211 302h1v1h-1zM1212 301h1v1h-1zM1215 299h1v1h-1zM1216 298h1v1h-1zM1258 285h1v2h-1zM1259 283h1v2h-1zM1260 282h1v1h-1zM1261 280h1v2h-1zM1262 279h1v1h-1zM1263 277h1v2h-1zM1264 275h1v2h-1zM1297 268h1v1h-1zM1298 266h1v2h-1zM1299 264h1v2h-1zM1300 262h1v2h-1zM1301 259h1v3h-1zM1302 257h1v2h-1zM1303 255h1v2h-1zM1304 253h1v2h-1zM1305 251h1v2h-1zM1332 242h1v1h-1zM1337 239h1v1h-1zM1338 238h1v1h-1zM1339 237h1v1h-1zM1340 236h1v1h-1zM1341 235h1v1h-1zM1342 234h1v1h-1zM1343 233h1v1h-1zM1344 232h1v1h-1zM1356 233h1v1h-1zM1394 242h1v1h-1zM1395 243h1v1h-1zM1396 244h1v1h-1zM1399 246h1v1h-1zM1400 247h1v1h-1zM1401 248h1v1h-1zM1402 249h1v1h-1zM1405 251h1v1h-1zM1406 252h1v1h-1zM1409 254h1v1h-1z" fill="#3cb371"/>
<rect x="1055" y="51" width="10" height="1" fill="#ff0000"/>
<rect x="1327" y="129" width="10" height="1" fill="#ff0000"/>
<rect x="1135" y="327" width="10" height="1" fill="#ff0000"/>
<rect x="1196" y="239" width="8" height="1" fill="#ff0000"/>
<rect x="1201.5" y="237.5" width="2" height="3" fill="#fff" stroke="#ff0000" stroke-width="1"/>
<rect x="994.5" y="42.5" width="61" height="18" fill="#fff" stroke="#ff0000" stroke-width="1" shape-rendering="crispEdges"/>
<text x="997" y="58" font-size="17.2" fill="#ff0000" textLength="57" lengthAdjust="spacingAndGlyphs">158.059</text>
<rect x="1266.5" y="120.5" width="61" height="18" fill="#fff" stroke="#ff0000" stroke-width="1" shape-rendering="crispEdges"/>
<text x="1269" y="136" font-size="17.2" fill="#ff0000" textLength="57" lengthAdjust="spacingAndGlyphs">157.274</text>
<rect x="1074.5" y="318.5" width="61" height="18" fill="#fff" stroke="#ff0000" stroke-width="1" shape-rendering="crispEdges"/>
<text x="1077" y="333.6" font-size="17.2" fill="#ff0000" textLength="57" lengthAdjust="spacingAndGlyphs">155.284</text>
<rect x="1204.5" y="227.5" width="73" height="24" fill="#fff" stroke="#ff0000" stroke-width="1" shape-rendering="crispEdges"/>
<text x="1206.5" y="247.9" font-size="22.5" fill="#ff0000" textLength="69.5" lengthAdjust="spacingAndGlyphs">156.168</text>
<rect x="1" y="148" width="1" height="36" fill="#000"/>
<rect x="-1" y="150" width="5" height="31" fill="#000"/>
<rect x="0" y="151" width="3" height="29" fill="#fff"/>
<rect x="9" y="127" width="1" height="27" fill="#000"/>
<rect x="7" y="139" width="5" height="12" fill="#000"/>
<rect x="8" y="140" width="3" height="10" fill="#fff"/>
<rect x="17" y="131" width="1" height="20" fill="#000"/>
<rect x="15" y="136" width="5" height="4" fill="#000"/>
<rect x="16" y="137" width="3" height="2" fill="#fff"/>
<rect x="25" y="115" width="1" height="38" fill="#000"/>
<rect x="23" y="117" width="5" height="20" fill="#000"/>
<rect x="24" y="118" width="3" height="18" fill="#fff"/>
<rect x="33" y="115" width="1" height="27" fill="#000"/>
<rect x="31" y="116" width="5" height="15" fill="#000"/>
<rect x="41" y="115" width="1" height="34" fill="#000"/>
<rect x="39" y="125" width="5" height="5" fill="#000"/>
<rect x="40" y="126" width="3" height="3" fill="#fff"/>
<rect x="49" y="104" width="1" height="43" fill="#000"/>
<rect x="47" y="125" width="5" height="14" fill="#000"/>
<rect x="57" y="133" width="1" height="50" fill="#000"/>
<rect x="55" y="139" width="5" height="35" fill="#000"/>
<rect x="65" y="135" width="1" height="42" fill="#000"/>
<rect x="63" y="141" width="5" height="35" fill="#000"/>
<rect x="64" y="142" width="3" height="33" fill="#fff"/>
<rect x="73" y="132" width="1" height="28" fill="#000"/>
<rect x="71" y="142" width="5" height="13" fill="#000"/>
<rect x="81" y="134" width="1" height="24" fill="#000"/>
<rect x="79" y="148" width="5" height="7" fill="#000"/>
<rect x="80" y="149" width="3" height="5" fill="#fff"/>
<rect x="89" y="112" width="1" height="40" fill="#000"/>
<rect x="87" y="139" width="5" height="12" fill="#000"/>
<rect x="88" y="140" width="3" height="10" fill="#fff"/>
<rect x="97" y="137" width="1" height="63" fill="#000"/>
<rect x="95" y="138" width="5" height="48" fill="#000"/>
<rect x="105" y="179" width="1" height="49" fill="#000"/>
<rect x="103" y="184" width="5" height="25" fill="#000"/>
<rect x="113" y="196" width="1" height="30" fill="#000"/>
<rect x="111" y="208" width="5" height="2" fill="#000"/>
<rect x="121" y="205" width="1" height="53" fill="#000"/>
<rect x="119" y="209" width="5" height="40" fill="#000"/>
<rect x="129" y="231" width="1" height="28" fill="#000"/>
<rect x="127" y="240" width="5" height="8" fill="#000"/>
<rect x="128" y="241" width="3" height="6" fill="#fff"/>
<rect x="137" y="205" width="1" height="42" fill="#000"/>
<rect x="135" y="233" width="5" height="8" fill="#000"/>
<rect x="136" y="234" width="3" height="6" fill="#fff"/>
<rect x="145" y="229" width="1" height="83" fill="#000"/>
<rect x="143" y="234" width="5" height="55" fill="#000"/>
<rect x="153" y="245" width="1" height="60" fill="#000"/>
<rect x="151" y="247" width="5" height="41" fill="#000"/>
<rect x="152" y="248" width="3" height="39" fill="#fff"/>
<rect x="161" y="226" width="1" height="19" fill="#000"/>
<rect x="159" y="229" width="5" height="12" fill="#000"/>
<rect x="160" y="230" width="3" height="10" fill="#fff"/>
<rect x="169" y="202" width="1" height="37" fill="#000"/>
<rect x="167" y="206" width="5" height="22" fill="#000"/>
<rect x="168" y="207" width="3" height="20" fill="#fff"/>
<rect x="177" y="193" width="1" height="19" fill="#000"/>
<rect x="175" y="203" width="5" height="4" fill="#000"/>
<rect x="176" y="204" width="3" height="2" fill="#fff"/>
<rect x="185" y="186" width="1" height="35" fill="#000"/>
<rect x="183" y="203" width="5" height="18" fill="#000"/>
<rect x="193" y="207" width="1" height="28" fill="#000"/>
<rect x="191" y="215" width="5" height="4" fill="#000"/>
<rect x="192" y="216" width="3" height="2" fill="#fff"/>
<rect x="201" y="209" width="1" height="18" fill="#000"/>
<rect x="199" y="215" width="5" height="10" fill="#000"/>
<rect x="209" y="216" width="1" height="11" fill="#000"/>
<rect x="207" y="221" width="5" height="3" fill="#000"/>
<rect x="208" y="222" width="3" height="1" fill="#fff"/>
<rect x="217" y="167" width="1" height="66" fill="#000"/>
<rect x="215" y="188" width="5" height="34" fill="#000"/>
<rect x="216" y="189" width="3" height="32" fill="#fff"/>
<rect x="225" y="178" width="1" height="34" fill="#000"/>
<rect x="223" y="184" width="5" height="5" fill="#000"/>
<rect x="224" y="185" width="3" height="3" fill="#fff"/>
<rect x="233" y="178" width="1" height="81" fill="#000"/>
<rect x="231" y="185" width="5" height="74" fill="#000"/>
<rect x="241" y="256" width="1" height="54" fill="#000"/>
<rect x="239" y="257" width="5" height="44" fill="#000"/>
<rect x="249" y="267" width="1" height="40" fill="#000"/>
<rect x="247" y="272" width="5" height="28" fill="#000"/>
<rect x="248" y="273" width="3" height="26" fill="#fff"/>
<rect x="257" y="270" width="1" height="18" fill="#000"/>
<rect x="255" y="272" width="5" height="7" fill="#000"/>
<rect x="265" y="250" width="1" height="41" fill="#000"/>
<rect x="263" y="278" width="5" height="4" fill="#000"/>
<rect x="273" y="277" width="1" height="42" fill="#000"/>
<rect x="271" y="279" width="5" height="30" fill="#000"/>
<rect x="281" y="234" width="1" height="79" fill="#000"/>
<rect x="279" y="251" width="5" height="58" fill="#000"/>
<rect x="280" y="252" width="3" height="56" fill="#fff"/>
<rect x="289" y="237" width="1" height="48" fill="#000"/>
<rect x="287" y="250" width="5" height="26" fill="#000"/>
<rect x="297" y="271" width="1" height="24" fill="#000"/>
<rect x="295" y="274" width="5" height="19" fill="#000"/>
<rect x="305" y="286" width="1" height="17" fill="#000"/>
<rect x="303" y="291" width="5" height="7" fill="#000"/>
<rect x="313" y="263" width="1" height="51" fill="#000"/>
<rect x="311" y="270" width="5" height="26" fill="#000"/>
<rect x="312" y="271" width="3" height="24" fill="#fff"/>
<rect x="321" y="251" width="1" height="24" fill="#000"/>
<rect x="319" y="269" width="5" height="2" fill="#000"/>
<rect x="329" y="264" width="1" height="45" fill="#000"/>
<rect x="327" y="268" width="5" height="41" fill="#000"/>
<rect x="337" y="279" width="1" height="38" fill="#000"/>
<rect x="335" y="292" width="5" height="15" fill="#000"/>
<rect x="336" y="293" width="3" height="13" fill="#fff"/>
<rect x="345" y="283" width="1" height="34" fill="#000"/>
<rect x="343" y="292" width="5" height="25" fill="#000"/>
<rect x="353" y="312" width="1" height="60" fill="#000"/>
<rect x="351" y="315" width="5" height="44" fill="#000"/>
<rect x="361" y="355" width="1" height="58" fill="#000"/>
<rect x="359" y="357" width="5" height="37" fill="#000"/>
<rect x="369" y="378" width="1" height="29" fill="#000"/>
<rect x="367" y="392" width="5" height="9" fill="#000"/>
<rect x="377" y="383" width="1" height="48" fill="#000"/>
<rect x="375" y="399" width="5" height="25" fill="#000"/>
<rect x="385" y="408" width="1" height="59" fill="#000"/>
<rect x="383" y="422" width="5" height="29" fill="#000"/>
<rect x="393" y="425" width="1" height="30" fill="#000"/>
<rect x="391" y="450" width="5" height="1" fill="#000"/>
<rect x="401" y="430" width="1" height="31" fill="#000"/>
<rect x="399" y="432" width="5" height="28" fill="#000"/>
<rect x="400" y="433" width="3" height="26" fill="#fff"/>
<rect x="409" y="408" width="1" height="39" fill="#000"/>
<rect x="407" y="422" width="5" height="12" fill="#000"/>
<rect x="408" y="423" width="3" height="10" fill="#fff"/>
<rect x="417" y="410" width="1" height="59" fill="#000"/>
<rect x="415" y="422" width="5" height="31" fill="#000"/>
<rect x="425" y="442" width="1" height="84" fill="#000"/>
<rect x="423" y="449" width="5" height="56" fill="#000"/>
<rect x="433" y="490" width="1" height="66" fill="#000"/>
<rect x="431" y="504" width="5" height="12" fill="#000"/>
<rect x="441" y="514" width="1" height="52" fill="#000"/>
<rect x="439" y="514" width="5" height="1" fill="#000"/>
<rect x="449" y="468" width="1" height="48" fill="#000"/>
<rect x="447" y="477" width="5" height="39" fill="#000"/>
<rect x="448" y="478" width="3" height="37" fill="#fff"/>
<rect x="457" y="475" width="1" height="60" fill="#000"/>
<rect x="455" y="477" width="5" height="48" fill="#000"/>
<rect x="465" y="498" width="1" height="46" fill="#000"/>
<rect x="463" y="500" width="5" height="24" fill="#000"/>
<rect x="464" y="501" width="3" height="22" fill="#fff"/>
<rect x="473" y="466" width="1" height="64" fill="#000"/>
<rect x="471" y="501" width="5" height="27" fill="#000"/>
<rect x="481" y="480" width="1" height="64" fill="#000"/>
<rect x="479" y="490" width="5" height="37" fill="#000"/>
<rect x="480" y="491" width="3" height="35" fill="#fff"/>
<rect x="489" y="456" width="1" height="50" fill="#000"/>
<rect x="487" y="456" width="5" height="36" fill="#000"/>
<rect x="488" y="457" width="3" height="34" fill="#fff"/>
<rect x="497" y="456" width="1" height="41" fill="#000"/>
<rect x="495" y="457" width="5" height="14" fill="#000"/>
<rect x="505" y="458" width="1" height="32" fill="#000"/>
<rect x="503" y="469" width="5" height="5" fill="#000"/>
<rect x="513" y="461" width="1" height="17" fill="#000"/>
<rect x="511" y="467" width="5" height="7" fill="#000"/>
<rect x="512" y="468" width="3" height="5" fill="#fff"/>
<rect x="521" y="419" width="1" height="50" fill="#000"/>
<rect x="519" y="426" width="5" height="41" fill="#000"/>
<rect x="520" y="427" width="3" height="39" fill="#fff"/>
<rect x="529" y="408" width="1" height="27" fill="#000"/>
<rect x="527" y="412" width="5" height="14" fill="#000"/>
<rect x="528" y="413" width="3" height="12" fill="#fff"/>
<rect x="537" y="385" width="1" height="51" fill="#000"/>
<rect x="535" y="412" width="5" height="23" fill="#000"/>
<rect x="545" y="407" width="1" height="62" fill="#000"/>
<rect x="543" y="407" width="5" height="28" fill="#000"/>
<rect x="544" y="408" width="3" height="26" fill="#fff"/>
<rect x="553" y="402" width="1" height="67" fill="#000"/>
<rect x="551" y="407" width="5" height="45" fill="#000"/>
<rect x="561" y="444" width="1" height="23" fill="#000"/>
<rect x="559" y="451" width="5" height="13" fill="#000"/>
<rect x="569" y="388" width="1" height="88" fill="#000"/>
<rect x="567" y="435" width="5" height="29" fill="#000"/>
<rect x="568" y="436" width="3" height="27" fill="#fff"/>
<rect x="577" y="394" width="1" height="50" fill="#000"/>
<rect x="575" y="399" width="5" height="37" fill="#000"/>
<rect x="576" y="400" width="3" height="35" fill="#fff"/>
<rect x="585" y="385" width="1" height="69" fill="#000"/>
<rect x="583" y="399" width="5" height="38" fill="#000"/>
<rect x="593" y="409" width="1" height="29" fill="#000"/>
<rect x="591" y="414" width="5" height="23" fill="#000"/>
<rect x="592" y="415" width="3" height="21" fill="#fff"/>
<rect x="601" y="385" width="1" height="35" fill="#000"/>
<rect x="599" y="399" width="5" height="17" fill="#000"/>
<rect x="600" y="400" width="3" height="15" fill="#fff"/>
<rect x="609" y="361" width="1" height="40" fill="#000"/>
<rect x="607" y="375" width="5" height="26" fill="#000"/>
<rect x="608" y="376" width="3" height="24" fill="#fff"/>
<rect x="617" y="372" width="1" height="51" fill="#000"/>
<rect x="615" y="372" width="5" height="3" fill="#000"/>
<rect x="616" y="373" width="3" height="1" fill="#fff"/>
<rect x="625" y="361" width="1" height="56" fill="#000"/>
<rect x="623" y="373" width="5" height="33" fill="#000"/>
<rect x="633" y="387" width="1" height="62" fill="#000"/>
<rect x="631" y="404" width="5" height="32" fill="#000"/>
<rect x="641" y="402" width="1" height="17" fill="#000"/>
<rect x="639" y="408" width="5" height="1" fill="#000"/>
<rect x="649" y="355" width="1" height="64" fill="#000"/>
<rect x="647" y="363" width="5" height="48" fill="#000"/>
<rect x="648" y="364" width="3" height="46" fill="#fff"/>
<rect x="657" y="348" width="1" height="27" fill="#000"/>
<rect x="655" y="348" width="5" height="16" fill="#000"/>
<rect x="656" y="349" width="3" height="14" fill="#fff"/>
<rect x="665" y="324" width="1" height="51" fill="#000"/>
<rect x="663" y="350" width="5" height="24" fill="#000"/>
<rect x="673" y="333" width="1" height="74" fill="#000"/>
<rect x="671" y="373" width="5" height="22" fill="#000"/>
<rect x="681" y="368" width="1" height="45" fill="#000"/>
<rect x="679" y="381" width="5" height="15" fill="#000"/>
<rect x="680" y="382" width="3" height="13" fill="#fff"/>
<rect x="689" y="371" width="1" height="21" fill="#000"/>
<rect x="687" y="379" width="5" height="3" fill="#000"/>
<rect x="688" y="380" width="3" height="1" fill="#fff"/>
<rect x="697" y="375" width="1" height="30" fill="#000"/>
<rect x="695" y="376" width="5" height="28" fill="#000"/>
<rect x="705" y="361" width="1" height="47" fill="#000"/>
<rect x="703" y="364" width="5" height="40" fill="#000"/>
<rect x="704" y="365" width="3" height="38" fill="#fff"/>
<rect x="713" y="354" width="1" height="37" fill="#000"/>
<rect x="711" y="365" width="5" height="26" fill="#000"/>
<rect x="721" y="336" width="1" height="69" fill="#000"/>
<rect x="719" y="354" width="5" height="36" fill="#000"/>
<rect x="720" y="355" width="3" height="34" fill="#fff"/>
<rect x="729" y="347" width="1" height="36" fill="#000"/>
<rect x="727" y="353" width="5" height="1" fill="#000"/>
<rect x="737" y="336" width="1" height="22" fill="#000"/>
<rect x="735" y="341" width="5" height="13" fill="#000"/>
<rect x="736" y="342" width="3" height="11" fill="#fff"/>
<rect x="745" y="335" width="1" height="19" fill="#000"/>
<rect x="743" y="340" width="5" height="3" fill="#000"/>
<rect x="753" y="336" width="1" height="19" fill="#000"/>
<rect x="751" y="340" width="5" height="3" fill="#000"/>
<rect x="761" y="336" width="1" height="42" fill="#000"/>
<rect x="759" y="342" width="5" height="9" fill="#000"/>
<rect x="769" y="327" width="1" height="46" fill="#000"/>
<rect x="767" y="341" width="5" height="8" fill="#000"/>
<rect x="768" y="342" width="3" height="6" fill="#fff"/>
<rect x="777" y="313" width="1" height="44" fill="#000"/>
<rect x="775" y="320" width="5" height="22" fill="#000"/>
<rect x="776" y="321" width="3" height="20" fill="#fff"/>
<rect x="785" y="316" width="1" height="31" fill="#000"/>
<rect x="783" y="320" width="5" height="22" fill="#000"/>
<rect x="793" y="332" width="1" height="22" fill="#000"/>
<rect x="791" y="336" width="5" height="7" fill="#000"/>
<rect x="792" y="337" width="3" height="5" fill="#fff"/>
<rect x="801" y="322" width="1" height="22" fill="#000"/>
<rect x="799" y="322" width="5" height="15" fill="#000"/>
<rect x="800" y="323" width="3" height="13" fill="#fff"/>
<rect x="809" y="277" width="1" height="49" fill="#000"/>
<rect x="807" y="281" width="5" height="42" fill="#000"/>
<rect x="808" y="282" width="3" height="40" fill="#fff"/>
<rect x="817" y="208" width="1" height="95" fill="#000"/>
<rect x="815" y="222" width="5" height="59" fill="#000"/>
<rect x="816" y="223" width="3" height="57" fill="#fff"/>
<rect x="825" y="208" width="1" height="45" fill="#000"/>
<rect x="823" y="222" width="5" height="19" fill="#000"/>
<rect x="833" y="218" width="1" height="25" fill="#000"/>
<rect x="831" y="226" width="5" height="16" fill="#000"/>
<rect x="832" y="227" width="3" height="14" fill="#fff"/>
<rect x="841" y="207" width="1" height="34" fill="#000"/>
<rect x="839" y="220" width="5" height="6" fill="#000"/>
<rect x="840" y="221" width="3" height="4" fill="#fff"/>
<rect x="849" y="218" width="1" height="26" fill="#000"/>
<rect x="847" y="220" width="5" height="7" fill="#000"/>
<rect x="857" y="213" width="1" height="74" fill="#000"/>
<rect x="855" y="224" width="5" height="45" fill="#000"/>
<rect x="865" y="244" width="1" height="59" fill="#000"/>
<rect x="863" y="262" width="5" height="7" fill="#000"/>
<rect x="864" y="263" width="3" height="5" fill="#fff"/>
<rect x="873" y="242" width="1" height="29" fill="#000"/>
<rect x="871" y="261" width="5" height="5" fill="#000"/>
<rect x="881" y="252" width="1" height="17" fill="#000"/>
<rect x="879" y="260" width="5" height="6" fill="#000"/>
<rect x="889" y="248" width="1" height="32" fill="#000"/>
<rect x="887" y="264" width="5" height="1" fill="#000"/>
<rect x="897" y="246" width="1" height="25" fill="#000"/>
<rect x="895" y="249" width="5" height="17" fill="#000"/>
<rect x="896" y="250" width="3" height="15" fill="#fff"/>
<rect x="905" y="241" width="1" height="104" fill="#000"/>
<rect x="903" y="248" width="5" height="81" fill="#000"/>
<rect x="913" y="288" width="1" height="43" fill="#000"/>
<rect x="911" y="290" width="5" height="39" fill="#000"/>
<rect x="912" y="291" width="3" height="37" fill="#fff"/>
<rect x="921" y="279" width="1" height="20" fill="#000"/>
<rect x="919" y="279" width="5" height="12" fill="#000"/>
<rect x="920" y="280" width="3" height="10" fill="#fff"/>
<rect x="929" y="273" width="1" height="18" fill="#000"/>
<rect x="927" y="279" width="5" height="4" fill="#000"/>
<rect x="937" y="242" width="1" height="41" fill="#000"/>
<rect x="935" y="246" width="5" height="37" fill="#000"/>
<rect x="936" y="247" width="3" height="35" fill="#fff"/>
<rect x="945" y="232" width="1" height="29" fill="#000"/>
<rect x="943" y="240" width="5" height="7" fill="#000"/>
<rect x="944" y="241" width="3" height="5" fill="#fff"/>
<rect x="953" y="215" width="1" height="39" fill="#000"/>
<rect x="951" y="237" width="5" height="5" fill="#000"/>
<rect x="952" y="238" width="3" height="3" fill="#fff"/>
<rect x="961" y="189" width="1" height="71" fill="#000"/>
<rect x="959" y="192" width="5" height="46" fill="#000"/>
<rect x="960" y="193" width="3" height="44" fill="#fff"/>
<rect x="969" y="186" width="1" height="28" fill="#000"/>
<rect x="967" y="191" width="5" height="22" fill="#000"/>
<rect x="977" y="189" width="1" height="34" fill="#000"/>
<rect x="975" y="207" width="5" height="5" fill="#000"/>
<rect x="976" y="208" width="3" height="3" fill="#fff"/>
<rect x="985" y="198" width="1" height="25" fill="#000"/>
<rect x="983" y="206" width="5" height="6" fill="#000"/>
<rect x="993" y="196" width="1" height="35" fill="#000"/>
<rect x="991" y="211" width="5" height="8" fill="#000"/>
<rect x="1001" y="172" width="1" height="59" fill="#000"/>
<rect x="999" y="187" width="5" height="31" fill="#000"/>
<rect x="1000" y="188" width="3" height="29" fill="#fff"/>
<rect x="1009" y="175" width="1" height="45" fill="#000"/>
<rect x="1007" y="186" width="5" height="34" fill="#000"/>
<rect x="1017" y="212" width="1" height="27" fill="#000"/>
<rect x="1015" y="218" width="5" height="11" fill="#000"/>
<rect x="1025" y="213" width="1" height="26" fill="#000"/>
<rect x="1023" y="214" width="5" height="15" fill="#000"/>
<rect x="1024" y="215" width="3" height="13" fill="#fff"/>
<rect x="1033" y="208" width="1" height="27" fill="#000"/>
<rect x="1031" y="214" width="5" height="9" fill="#000"/>
<rect x="1041" y="198" width="1" height="28" fill="#000"/>
<rect x="1039" y="199" width="5" height="24" fill="#000"/>
<rect x="1040" y="200" width="3" height="22" fill="#fff"/>
<rect x="1049" y="136" width="1" height="67" fill="#000"/>
<rect x="1047" y="144" width="5" height="57" fill="#000"/>
<rect x="1048" y="145" width="3" height="55" fill="#fff"/>
<rect x="1057" y="70" width="1" height="88" fill="#000"/>
<rect x="1055" y="72" width="5" height="73" fill="#000"/>
<rect x="1056" y="73" width="3" height="71" fill="#fff"/>
<rect x="1065" y="51" width="1" height="79" fill="#000"/>
<rect x="1063" y="72" width="5" height="56" fill="#000"/>
<rect x="1073" y="113" width="1" height="32" fill="#000"/>
<rect x="1071" y="125" width="5" height="10" fill="#000"/>
<rect x="1081" y="132" width="1" height="17" fill="#000"/>
<rect x="1079" y="135" width="5" height="1" fill="#000"/>
<rect x="1089" y="136" width="1" height="35" fill="#000"/>
<rect x="1087" y="136" width="5" height="22" fill="#000"/>
<rect x="1097" y="114" width="1" height="74" fill="#000"/>
<rect x="1095" y="126" width="5" height="32" fill="#000"/>
<rect x="1096" y="127" width="3" height="30" fill="#fff"/>
<rect x="1105" y="90" width="1" height="49" fill="#000"/>
<rect x="1103" y="96" width="5" height="30" fill="#000"/>
<rect x="1104" y="97" width="3" height="28" fill="#fff"/>
<rect x="1113" y="88" width="1" height="185" fill="#000"/>
<rect x="1111" y="95" width="5" height="148" fill="#000"/>
<rect x="1121" y="173" width="1" height="49" fill="#000"/>
<rect x="1119" y="175" width="5" height="35" fill="#000"/>
<rect x="1120" y="176" width="3" height="33" fill="#fff"/>
<rect x="1129" y="173" width="1" height="61" fill="#000"/>
<rect x="1127" y="174" width="5" height="52" fill="#000"/>
<rect x="1137" y="210" width="1" height="47" fill="#000"/>
<rect x="1135" y="225" width="5" height="10" fill="#000"/>
<rect x="1145" y="233" width="1" height="96" fill="#000"/>
<rect x="1143" y="233" width="5" height="61" fill="#000"/>
<rect x="1153" y="213" width="1" height="100" fill="#000"/>
<rect x="1151" y="240" width="5" height="54" fill="#000"/>
<rect x="1152" y="241" width="3" height="52" fill="#fff"/>
<rect x="1161" y="204" width="1" height="56" fill="#000"/>
<rect x="1159" y="221" width="5" height="20" fill="#000"/>
<rect x="1160" y="222" width="3" height="18" fill="#fff"/>
<rect x="1169" y="220" width="1" height="22" fill="#000"/>
<rect x="1167" y="222" width="5" height="1" fill="#000"/>
<rect x="1177" y="216" width="1" height="30" fill="#000"/>
<rect x="1175" y="224" width="5" height="11" fill="#000"/>
<rect x="1185" y="232" width="1" height="31" fill="#000"/>
<rect x="1183" y="233" width="5" height="18" fill="#000"/>
<rect x="1193" y="175" width="1" height="82" fill="#000"/>
<rect x="1191" y="199" width="5" height="52" fill="#000"/>
<rect x="1192" y="200" width="3" height="50" fill="#fff"/>
<rect x="1201" y="186" width="1" height="55" fill="#000"/>
<rect x="1199" y="199" width="5" height="10" fill="#000"/>
<rect x="1209" y="195" width="1" height="23" fill="#000"/>
<rect x="1207" y="207" width="5" height="1" fill="#000"/>
<rect x="1217" y="196" width="1" height="23" fill="#000"/>
<rect x="1215" y="200" width="5" height="8" fill="#000"/>
<rect x="1216" y="201" width="3" height="6" fill="#fff"/>
<rect x="1225" y="182" width="1" height="22" fill="#000"/>
<rect x="1223" y="194" width="5" height="7" fill="#000"/>
<rect x="1224" y="195" width="3" height="5" fill="#fff"/>
<rect x="1233" y="168" width="1" height="29" fill="#000"/>
<rect x="1231" y="180" width="5" height="15" fill="#000"/>
<rect x="1232" y="181" width="3" height="13" fill="#fff"/>
<rect x="1241" y="147" width="1" height="36" fill="#000"/>
<rect x="1239" y="176" width="5" height="4" fill="#000"/>
<rect x="1240" y="177" width="3" height="2" fill="#fff"/>
<rect x="1249" y="164" width="1" height="61" fill="#000"/>
<rect x="1247" y="174" width="5" height="9" fill="#000"/>
<rect x="1257" y="159" width="1" height="33" fill="#000"/>
<rect x="1255" y="165" width="5" height="18" fill="#000"/>
<rect x="1256" y="166" width="3" height="16" fill="#fff"/>
<rect x="1265" y="159" width="1" height="36" fill="#000"/>
<rect x="1263" y="164" width="5" height="23" fill="#000"/>
<rect x="1273" y="159" width="1" height="81" fill="#000"/>
<rect x="1271" y="186" width="5" height="54" fill="#000"/>
<rect x="1281" y="172" width="1" height="77" fill="#000"/>
<rect x="1279" y="183" width="5" height="58" fill="#000"/>
<rect x="1280" y="184" width="3" height="56" fill="#fff"/>
<rect x="1289" y="176" width="1" height="76" fill="#000"/>
<rect x="1287" y="183" width="5" height="18" fill="#000"/>
<rect x="1297" y="169" width="1" height="53" fill="#000"/>
<rect x="1295" y="199" width="5" height="1" fill="#000"/>
<rect x="1305" y="177" width="1" height="34" fill="#000"/>
<rect x="1303" y="200" width="5" height="10" fill="#000"/>
<rect x="1313" y="200" width="1" height="26" fill="#000"/>
<rect x="1311" y="207" width="5" height="14" fill="#000"/>
<rect x="1321" y="170" width="1" height="67" fill="#000"/>
<rect x="1319" y="186" width="5" height="35" fill="#000"/>
<rect x="1320" y="187" width="3" height="33" fill="#fff"/>
<rect x="1329" y="172" width="1" height="17" fill="#000"/>
<rect x="1327" y="174" width="5" height="14" fill="#000"/>
<rect x="1328" y="175" width="3" height="12" fill="#fff"/>
<rect x="1337" y="129" width="1" height="55" fill="#000"/>
<rect x="1335" y="175" width="5" height="4" fill="#000"/>
<rect x="1345" y="171" width="1" height="57" fill="#000"/>
<rect x="1343" y="177" width="5" height="42" fill="#000"/>
<rect x="1353" y="202" width="1" height="35" fill="#000"/>
<rect x="1351" y="205" width="5" height="13" fill="#000"/>
<rect x="1352" y="206" width="3" height="11" fill="#fff"/>
<rect x="1361" y="228" width="1" height="23" fill="#000"/>
<rect x="1359" y="233" width="5" height="1" fill="#000"/>
<rect x="1369" y="194" width="1" height="53" fill="#000"/>
<rect x="1367" y="202" width="5" height="34" fill="#000"/>
<rect x="1368" y="203" width="3" height="32" fill="#fff"/>
<rect x="1377" y="183" width="1" height="26" fill="#000"/>
<rect x="1375" y="195" width="5" height="10" fill="#000"/>
<rect x="1376" y="196" width="3" height="8" fill="#fff"/>
<rect x="1385" y="184" width="1" height="47" fill="#000"/>
<rect x="1383" y="195" width="5" height="20" fill="#000"/>
<rect x="1393" y="200" width="1" height="47" fill="#000"/>
<rect x="1391" y="214" width="5" height="19" fill="#000"/>
<rect x="1401" y="222" width="1" height="33" fill="#000"/>
<rect x="1399" y="231" width="5" height="14" fill="#000"/>
<rect x="1409" y="242" width="1" height="15" fill="#000"/>
<rect x="1407" y="244" width="5" height="7" fill="#000"/>
<rect x="1334" y="236" width="162" height="6" fill="#00ff00"/>
</g>
<g clip-path="url(#cm)">
<polygon points="1328.7,141.6 1412.3,242.7 1409.2,245.2 1421.0,250.4 1418.1,237.8 1415.0,240.4 1331.3,139.4" fill="#ff0000"/>
</g>
<polygon points="1413,26 1423,26 1418,31" fill="#a8a8a8"/>
<g shape-rendering="crispEdges">
<rect x="0" y="25" width="1653" height="1" fill="#000"/>
<rect x="0" y="578" width="1653" height="1" fill="#000"/>
<rect x="0" y="580" width="1653" height="1" fill="#000"/>
<rect x="0" y="750" width="1653" height="1" fill="#000"/>
<rect x="0" y="752" width="1653" height="1" fill="#000"/>
<rect x="0" y="926" width="1653" height="1" fill="#000"/>
<rect x="1652" y="25" width="1" height="554" fill="#000"/>
<rect x="1652" y="580" width="1" height="171" fill="#000"/>
<rect x="1652" y="752" width="1" height="175" fill="#000"/>
<rect x="1698" y="23" width="1" height="920" fill="#e4e4e4"/>
</g>
<g shape-rendering="crispEdges">
<rect x="1653" y="47" width="2" height="1" fill="#000"/>
<rect x="1653" y="80" width="2" height="1" fill="#000"/>
<rect x="1653" y="113" width="2" height="1" fill="#000"/>
<rect x="1653" y="146" width="2" height="1" fill="#000"/>
<rect x="1653" y="213" width="2" height="1" fill="#000"/>
<rect x="1653" y="278" width="2" height="1" fill="#000"/>
<rect x="1653" y="312" width="2" height="1" fill="#000"/>
<rect x="1653" y="345" width="2" height="1" fill="#000"/>
<rect x="1653" y="378" width="2" height="1" fill="#000"/>
<rect x="1653" y="410" width="2" height="1" fill="#000"/>
<rect x="1653" y="444" width="2" height="1" fill="#000"/>
<rect x="1653" y="477" width="2" height="1" fill="#000"/>
<rect x="1653" y="510" width="2" height="1" fill="#000"/>
<rect x="1653" y="543" width="2" height="1" fill="#000"/>
<rect x="1653" y="575" width="2" height="1" fill="#000"/>
</g>
<text x="1658" y="51.0" font-size="9.5" fill="#000" textLength="33" lengthAdjust="spacingAndGlyphs">158.100</text>
<text x="1658" y="83.8" font-size="9.5" fill="#000" textLength="33" lengthAdjust="spacingAndGlyphs">157.770</text>
<text x="1658" y="116.6" font-size="9.5" fill="#000" textLength="33" lengthAdjust="spacingAndGlyphs">157.440</text>
<text x="1658" y="149.4" font-size="9.5" fill="#000" textLength="33" lengthAdjust="spacingAndGlyphs">157.110</text>
<text x="1658" y="216.0" font-size="9.5" fill="#000" textLength="33" lengthAdjust="spacingAndGlyphs">156.440</text>
<text x="1658" y="281.7" font-size="9.5" fill="#000" textLength="33" lengthAdjust="spacingAndGlyphs">155.780</text>
<text x="1658" y="315.5" font-size="9.5" fill="#000" textLength="33" lengthAdjust="spacingAndGlyphs">155.440</text>
<text x="1658" y="348.3" font-size="9.5" fill="#000" textLength="33" lengthAdjust="spacingAndGlyphs">155.110</text>
<text x="1658" y="381.1" font-size="9.5" fill="#000" textLength="33" lengthAdjust="spacingAndGlyphs">154.780</text>
<text x="1658" y="413.9" font-size="9.5" fill="#000" textLength="33" lengthAdjust="spacingAndGlyphs">154.450</text>
<text x="1658" y="447.7" font-size="9.5" fill="#000" textLength="33" lengthAdjust="spacingAndGlyphs">154.110</text>
<text x="1658" y="480.5" font-size="9.5" fill="#000" textLength="33" lengthAdjust="spacingAndGlyphs">153.780</text>
<text x="1658" y="513.4" font-size="9.5" fill="#000" textLength="33" lengthAdjust="spacingAndGlyphs">153.450</text>
<text x="1658" y="546.2" font-size="9.5" fill="#000" textLength="33" lengthAdjust="spacingAndGlyphs">153.120</text>
<text x="1658" y="579.0" font-size="9.5" fill="#000" textLength="33" lengthAdjust="spacingAndGlyphs">152.790</text>
<rect x="1654" y="176" width="41" height="11" fill="#ff0000" shape-rendering="crispEdges"/>
<text x="1658.5" y="185" font-size="9.5" fill="#fff" textLength="32" lengthAdjust="spacingAndGlyphs">156.742</text>
<rect x="1654" y="204" width="41" height="11" fill="#ff0000" shape-rendering="crispEdges"/>
<text x="1658.5" y="213" font-size="9.5" fill="#fff" textLength="32" lengthAdjust="spacingAndGlyphs">156.460</text>
<rect x="1654" y="233" width="41" height="11" fill="#32cd32" shape-rendering="crispEdges"/>
<text x="1658.5" y="242" font-size="9.5" fill="#fff" textLength="32" lengthAdjust="spacingAndGlyphs">156.168</text>
<rect x="1654" y="245" width="41" height="11" fill="#000000" shape-rendering="crispEdges"/>
<text x="1658.5" y="254" font-size="9.5" fill="#fff" textLength="32" lengthAdjust="spacingAndGlyphs">156.054</text>
<rect x="1654" y="273" width="41" height="11" fill="#0000ff" shape-rendering="crispEdges"/>
<text x="1658.5" y="282" font-size="9.5" fill="#fff" textLength="32" lengthAdjust="spacingAndGlyphs">155.766</text>
<rect x="1654" y="300" width="41" height="11" fill="#0000ff" shape-rendering="crispEdges"/>
<text x="1658.5" y="309" font-size="9.5" fill="#fff" textLength="32" lengthAdjust="spacingAndGlyphs">155.495</text>
<g clip-path="url(#cmacd)" shape-rendering="crispEdges">
<rect x="1" y="638" width="1" height="13" fill="#c0c0c0"/>
<rect x="9" y="634" width="1" height="17" fill="#c0c0c0"/>
<rect x="17" y="631" width="1" height="20" fill="#c0c0c0"/>
<rect x="25" y="627" width="1" height="24" fill="#c0c0c0"/>
<rect x="33" y="625" width="1" height="26" fill="#c0c0c0"/>
<rect x="41" y="624" width="1" height="27" fill="#c0c0c0"/>
<rect x="49" y="624" width="1" height="27" fill="#c0c0c0"/>
<rect x="57" y="629" width="1" height="22" fill="#c0c0c0"/>
<rect x="65" y="629" width="1" height="22" fill="#c0c0c0"/>
<rect x="73" y="631" width="1" height="20" fill="#c0c0c0"/>
<rect x="81" y="632" width="1" height="19" fill="#c0c0c0"/>
<rect x="89" y="632" width="1" height="19" fill="#c0c0c0"/>
<rect x="97" y="638" width="1" height="13" fill="#c0c0c0"/>
<rect x="105" y="645" width="1" height="6" fill="#c0c0c0"/>
<rect x="113" y="650" width="1" height="1" fill="#c0c0c0"/>
<rect x="121" y="650" width="1" height="10" fill="#c0c0c0"/>
<rect x="129" y="650" width="1" height="16" fill="#c0c0c0"/>
<rect x="137" y="650" width="1" height="19" fill="#c0c0c0"/>
<rect x="145" y="650" width="1" height="28" fill="#c0c0c0"/>
<rect x="153" y="650" width="1" height="30" fill="#c0c0c0"/>
<rect x="161" y="650" width="1" height="29" fill="#c0c0c0"/>
<rect x="169" y="650" width="1" height="26" fill="#c0c0c0"/>
<rect x="177" y="650" width="1" height="23" fill="#c0c0c0"/>
<rect x="185" y="650" width="1" height="22" fill="#c0c0c0"/>
<rect x="193" y="650" width="1" height="20" fill="#c0c0c0"/>
<rect x="201" y="650" width="1" height="20" fill="#c0c0c0"/>
<rect x="209" y="650" width="1" height="19" fill="#c0c0c0"/>
<rect x="217" y="650" width="1" height="14" fill="#c0c0c0"/>
<rect x="225" y="650" width="1" height="10" fill="#c0c0c0"/>
<rect x="233" y="650" width="1" height="15" fill="#c0c0c0"/>
<rect x="241" y="650" width="1" height="23" fill="#c0c0c0"/>
<rect x="249" y="650" width="1" height="26" fill="#c0c0c0"/>
<rect x="257" y="650" width="1" height="29" fill="#c0c0c0"/>
<rect x="265" y="650" width="1" height="32" fill="#c0c0c0"/>
<rect x="273" y="650" width="1" height="36" fill="#c0c0c0"/>
<rect x="281" y="650" width="1" height="33" fill="#c0c0c0"/>
<rect x="289" y="650" width="1" height="32" fill="#c0c0c0"/>
<rect x="297" y="650" width="1" height="34" fill="#c0c0c0"/>
<rect x="305" y="650" width="1" height="35" fill="#c0c0c0"/>
<rect x="313" y="650" width="1" height="33" fill="#c0c0c0"/>
<rect x="321" y="650" width="1" height="30" fill="#c0c0c0"/>
<rect x="329" y="650" width="1" height="32" fill="#c0c0c0"/>
<rect x="337" y="650" width="1" height="32" fill="#c0c0c0"/>
<rect x="345" y="650" width="1" height="34" fill="#c0c0c0"/>
<rect x="353" y="650" width="1" height="40" fill="#c0c0c0"/>
<rect x="361" y="650" width="1" height="48" fill="#c0c0c0"/>
<rect x="369" y="650" width="1" height="54" fill="#c0c0c0"/>
<rect x="377" y="650" width="1" height="62" fill="#c0c0c0"/>
<rect x="385" y="650" width="1" height="69" fill="#c0c0c0"/>
<rect x="393" y="650" width="1" height="75" fill="#c0c0c0"/>
<rect x="401" y="650" width="1" height="76" fill="#c0c0c0"/>
<rect x="409" y="650" width="1" height="75" fill="#c0c0c0"/>
<rect x="417" y="650" width="1" height="77" fill="#c0c0c0"/>
<rect x="425" y="650" width="1" height="84" fill="#c0c0c0"/>
<rect x="433" y="650" width="1" height="89" fill="#c0c0c0"/>
<rect x="441" y="650" width="1" height="92" fill="#c0c0c0"/>
<rect x="449" y="650" width="1" height="89" fill="#c0c0c0"/>
<rect x="457" y="650" width="1" height="91" fill="#c0c0c0"/>
<rect x="465" y="650" width="1" height="89" fill="#c0c0c0"/>
<rect x="473" y="650" width="1" height="89" fill="#c0c0c0"/>
<rect x="481" y="650" width="1" height="85" fill="#c0c0c0"/>
<rect x="489" y="650" width="1" height="76" fill="#c0c0c0"/>
<rect x="497" y="650" width="1" height="70" fill="#c0c0c0"/>
<rect x="505" y="650" width="1" height="65" fill="#c0c0c0"/>
<rect x="513" y="650" width="1" height="59" fill="#c0c0c0"/>
<rect x="521" y="650" width="1" height="50" fill="#c0c0c0"/>
<rect x="529" y="650" width="1" height="40" fill="#c0c0c0"/>
<rect x="537" y="650" width="1" height="35" fill="#c0c0c0"/>
<rect x="545" y="650" width="1" height="27" fill="#c0c0c0"/>
<rect x="553" y="650" width="1" height="26" fill="#c0c0c0"/>
<rect x="561" y="650" width="1" height="26" fill="#c0c0c0"/>
<rect x="569" y="650" width="1" height="22" fill="#c0c0c0"/>
<rect x="577" y="650" width="1" height="15" fill="#c0c0c0"/>
<rect x="585" y="650" width="1" height="14" fill="#c0c0c0"/>
<rect x="593" y="650" width="1" height="10" fill="#c0c0c0"/>
<rect x="601" y="650" width="1" height="5" fill="#c0c0c0"/>
<rect x="609" y="648" width="1" height="3" fill="#c0c0c0"/>
<rect x="617" y="643" width="1" height="8" fill="#c0c0c0"/>
<rect x="625" y="642" width="1" height="9" fill="#c0c0c0"/>
<rect x="633" y="645" width="1" height="6" fill="#c0c0c0"/>
<rect x="641" y="645" width="1" height="6" fill="#c0c0c0"/>
<rect x="649" y="639" width="1" height="12" fill="#c0c0c0"/>
<rect x="657" y="634" width="1" height="17" fill="#c0c0c0"/>
<rect x="665" y="632" width="1" height="19" fill="#c0c0c0"/>
<rect x="673" y="634" width="1" height="17" fill="#c0c0c0"/>
<rect x="681" y="633" width="1" height="18" fill="#c0c0c0"/>
<rect x="689" y="633" width="1" height="18" fill="#c0c0c0"/>
<rect x="697" y="636" width="1" height="15" fill="#c0c0c0"/>
<rect x="705" y="634" width="1" height="17" fill="#c0c0c0"/>
<rect x="713" y="635" width="1" height="16" fill="#c0c0c0"/>
<rect x="721" y="633" width="1" height="18" fill="#c0c0c0"/>
<rect x="729" y="631" width="1" height="20" fill="#c0c0c0"/>
<rect x="737" y="628" width="1" height="23" fill="#c0c0c0"/>
<rect x="745" y="626" width="1" height="25" fill="#c0c0c0"/>
<rect x="753" y="625" width="1" height="26" fill="#c0c0c0"/>
<rect x="761" y="625" width="1" height="26" fill="#c0c0c0"/>
<rect x="769" y="625" width="1" height="26" fill="#c0c0c0"/>
<rect x="777" y="622" width="1" height="29" fill="#c0c0c0"/>
<rect x="785" y="623" width="1" height="28" fill="#c0c0c0"/>
<rect x="793" y="624" width="1" height="27" fill="#c0c0c0"/>
<rect x="801" y="623" width="1" height="28" fill="#c0c0c0"/>
<rect x="809" y="618" width="1" height="33" fill="#c0c0c0"/>
<rect x="817" y="607" width="1" height="44" fill="#c0c0c0"/>
<rect x="825" y="602" width="1" height="49" fill="#c0c0c0"/>
<rect x="833" y="597" width="1" height="54" fill="#c0c0c0"/>
<rect x="841" y="592" width="1" height="59" fill="#c0c0c0"/>
<rect x="849" y="590" width="1" height="61" fill="#c0c0c0"/>
<rect x="857" y="594" width="1" height="57" fill="#c0c0c0"/>
<rect x="865" y="597" width="1" height="54" fill="#c0c0c0"/>
<rect x="873" y="601" width="1" height="50" fill="#c0c0c0"/>
<rect x="881" y="604" width="1" height="47" fill="#c0c0c0"/>
<rect x="889" y="607" width="1" height="44" fill="#c0c0c0"/>
<rect x="897" y="608" width="1" height="43" fill="#c0c0c0"/>
<rect x="905" y="618" width="1" height="33" fill="#c0c0c0"/>
<rect x="913" y="622" width="1" height="29" fill="#c0c0c0"/>
<rect x="921" y="624" width="1" height="27" fill="#c0c0c0"/>
<rect x="929" y="627" width="1" height="24" fill="#c0c0c0"/>
<rect x="937" y="625" width="1" height="26" fill="#c0c0c0"/>
<rect x="945" y="623" width="1" height="28" fill="#c0c0c0"/>
<rect x="953" y="621" width="1" height="30" fill="#c0c0c0"/>
<rect x="961" y="616" width="1" height="35" fill="#c0c0c0"/>
<rect x="969" y="614" width="1" height="37" fill="#c0c0c0"/>
<rect x="977" y="612" width="1" height="39" fill="#c0c0c0"/>
<rect x="985" y="612" width="1" height="39" fill="#c0c0c0"/>
<rect x="993" y="612" width="1" height="39" fill="#c0c0c0"/>
<rect x="1001" y="610" width="1" height="41" fill="#c0c0c0"/>
<rect x="1009" y="612" width="1" height="39" fill="#c0c0c0"/>
<rect x="1017" y="615" width="1" height="36" fill="#c0c0c0"/>
<rect x="1025" y="617" width="1" height="34" fill="#c0c0c0"/>
<rect x="1033" y="619" width="1" height="32" fill="#c0c0c0"/>
<rect x="1041" y="619" width="1" height="32" fill="#c0c0c0"/>
<rect x="1049" y="613" width="1" height="38" fill="#c0c0c0"/>
<rect x="1057" y="600" width="1" height="51" fill="#c0c0c0"/>
<rect x="1065" y="597" width="1" height="54" fill="#c0c0c0"/>
<rect x="1073" y="596" width="1" height="55" fill="#c0c0c0"/>
<rect x="1081" y="596" width="1" height="55" fill="#c0c0c0"/>
<rect x="1089" y="599" width="1" height="52" fill="#c0c0c0"/>
<rect x="1097" y="599" width="1" height="52" fill="#c0c0c0"/>
<rect x="1105" y="596" width="1" height="55" fill="#c0c0c0"/>
<rect x="1113" y="610" width="1" height="41" fill="#c0c0c0"/>
<rect x="1121" y="614" width="1" height="37" fill="#c0c0c0"/>
<rect x="1129" y="624" width="1" height="27" fill="#c0c0c0"/>
<rect x="1137" y="632" width="1" height="19" fill="#c0c0c0"/>
<rect x="1145" y="646" width="1" height="5" fill="#c0c0c0"/>
<rect x="1153" y="650" width="1" height="2" fill="#c0c0c0"/>
<rect x="1161" y="650" width="1" height="3" fill="#c0c0c0"/>
<rect x="1169" y="650" width="1" height="5" fill="#c0c0c0"/>
<rect x="1177" y="650" width="1" height="7" fill="#c0c0c0"/>
<rect x="1185" y="650" width="1" height="11" fill="#c0c0c0"/>
<rect x="1193" y="650" width="1" height="8" fill="#c0c0c0"/>
<rect x="1201" y="650" width="1" height="6" fill="#c0c0c0"/>
<rect x="1209" y="650" width="1" height="5" fill="#c0c0c0"/>
<rect x="1217" y="650" width="1" height="3" fill="#c0c0c0"/>
<rect x="1225" y="650" width="1" height="1" fill="#c0c0c0"/>
<rect x="1233" y="647" width="1" height="4" fill="#c0c0c0"/>
<rect x="1241" y="644" width="1" height="7" fill="#c0c0c0"/>
<rect x="1249" y="642" width="1" height="9" fill="#c0c0c0"/>
<rect x="1257" y="639" width="1" height="12" fill="#c0c0c0"/>
<rect x="1265" y="639" width="1" height="12" fill="#c0c0c0"/>
<rect x="1273" y="645" width="1" height="6" fill="#c0c0c0"/>
<rect x="1281" y="644" width="1" height="7" fill="#c0c0c0"/>
<rect x="1289" y="645" width="1" height="6" fill="#c0c0c0"/>
<rect x="1297" y="646" width="1" height="5" fill="#c0c0c0"/>
<rect x="1305" y="647" width="1" height="4" fill="#c0c0c0"/>
<rect x="1313" y="650" width="1" height="1" fill="#c0c0c0"/>
<rect x="1321" y="648" width="1" height="3" fill="#c0c0c0"/>
<rect x="1329" y="645" width="1" height="6" fill="#c0c0c0"/>
<rect x="1337" y="644" width="1" height="7" fill="#c0c0c0"/>
<rect x="1345" y="647" width="1" height="4" fill="#c0c0c0"/>
<rect x="1353" y="648" width="1" height="3" fill="#c0c0c0"/>
<rect x="1361" y="650" width="1" height="3" fill="#c0c0c0"/>
<rect x="1369" y="650" width="1" height="3" fill="#c0c0c0"/>
<rect x="1377" y="650" width="1" height="2" fill="#c0c0c0"/>
<rect x="1385" y="650" width="1" height="3" fill="#c0c0c0"/>
<rect x="1393" y="650" width="1" height="6" fill="#c0c0c0"/>
<rect x="1401" y="650" width="1" height="10" fill="#c0c0c0"/>
<rect x="1409" y="650" width="1" height="13" fill="#c0c0c0"/>
<path d="M1 630h2v1h-2zM7 632h3v1h-3zM13 634h3v1h-3zM19 635h3v1h-3zM25 635h3v1h-3zM31 634h3v1h-3zM37 633h3v1h-3zM43 632h2v1h-2zM49 630h3v1h-3zM55 629h3v1h-3zM61 629h3v1h-3zM67 629h2v1h-2zM73 628h3v1h-3zM79 628h3v1h-3zM85 628h3v1h-3zM91 628h2v1h-2zM97 629h2v1h-2zM103 631h3v1h-3zM109 633h3v1h-3zM116 636h2v1h-2zM122 639h2v1h-2zM128 642h2v1h-2zM133 645h2v1h-2zM146 653h2v1h-2zM151 656h2v1h-2zM157 660h2v1h-2zM169 667h2v1h-2zM176 670h2v1h-2zM181 671h2v1h-2zM187 672h2v1h-2zM193 673h3v1h-3zM199 674h3v1h-3zM205 674h3v1h-3zM211 673h3v1h-3zM217 672h2v1h-2zM223 670h3v1h-3zM229 669h2v1h-2zM235 668h3v1h-3zM241 668h3v1h-3zM247 668h3v1h-3zM253 669h3v1h-3zM259 669h2v1h-2zM265 670h2v1h-2zM271 672h3v1h-3zM277 673h2v1h-2zM283 675h3v1h-3zM289 676h2v1h-2zM296 679h2v1h-2zM301 680h2v1h-2zM307 681h2v1h-2zM313 682h3v1h-3zM319 682h3v1h-3zM325 683h3v1h-3zM331 683h3v1h-3zM337 683h3v1h-3zM343 683h3v1h-3zM349 683h3v1h-3zM355 684h3v1h-3zM361 685h2v1h-2zM368 688h2v1h-2zM373 690h3v1h-3zM380 693h2v1h-2zM386 696h2v1h-2zM391 699h2v1h-2zM397 703h2v1h-2zM410 711h2v1h-2zM415 714h2v1h-2zM421 718h2v1h-2zM428 722h2v1h-2zM434 725h2v1h-2zM439 728h2v1h-2zM445 731h3v1h-3zM451 733h3v1h-3zM457 734h2v1h-2zM463 736h3v1h-3zM469 737h3v1h-3zM475 737h2v1h-2zM481 738h3v1h-3zM487 738h3v1h-3zM493 737h3v1h-3zM499 736h2v1h-2zM506 733h2v1h-2zM512 730h2v1h-2zM518 727h2v1h-2zM523 724h2v1h-2zM535 715h2v1h-2zM541 710h2v1h-2zM559 695h2v1h-2zM565 691h2v1h-2zM571 687h2v1h-2zM578 682h2v1h-2zM583 679h2v1h-2zM590 675h2v1h-2zM596 672h2v1h-2zM602 669h2v1h-2zM608 666h2v1h-2zM614 663h2v1h-2zM620 660h2v1h-2zM625 658h2v1h-2zM632 655h2v1h-2zM637 653h3v1h-3zM643 651h2v1h-2zM650 648h2v1h-2zM656 645h2v1h-2zM661 643h3v1h-3zM667 641h3v1h-3zM673 640h2v1h-2zM679 638h3v1h-3zM685 637h3v1h-3zM691 637h2v1h-2zM697 636h3v1h-3zM703 635h3v1h-3zM709 634h3v1h-3zM715 634h2v1h-2zM721 633h3v1h-3zM727 633h3v1h-3zM733 632h3v1h-3zM739 632h3v1h-3zM745 632h3v1h-3zM751 631h3v1h-3zM757 630h3v1h-3zM763 630h2v1h-2zM769 629h2v1h-2zM775 627h3v1h-3zM781 626h3v1h-3zM787 626h2v1h-2zM793 625h3v1h-3zM799 624h3v1h-3zM805 623h3v1h-3zM811 622h3v1h-3zM817 621h2v1h-2zM824 618h2v1h-2zM829 616h3v1h-3zM836 613h2v1h-2zM842 610h2v1h-2zM848 607h2v1h-2zM853 605h3v1h-3zM859 603h2v1h-2zM865 601h2v1h-2zM871 599h3v1h-3zM877 598h2v1h-2zM883 597h3v1h-3zM889 597h3v1h-3zM895 598h3v1h-3zM901 599h2v1h-2zM907 601h2v1h-2zM914 604h2v1h-2zM920 607h2v1h-2zM926 610h2v1h-2zM931 612h2v1h-2zM937 614h2v1h-2zM943 616h3v1h-3zM949 617h2v1h-2zM955 618h2v1h-2zM961 619h3v1h-3zM967 620h3v1h-3zM973 620h3v1h-3zM979 619h3v1h-3zM985 618h3v1h-3zM991 617h3v1h-3zM997 616h2v1h-2zM1003 615h2v1h-2zM1009 614h3v1h-3zM1015 613h3v1h-3zM1021 612h3v1h-3zM1027 612h2v1h-2zM1033 613h3v1h-3zM1039 613h3v1h-3zM1045 613h3v1h-3zM1051 613h2v1h-2zM1057 612h2v1h-2zM1063 610h3v1h-3zM1069 609h3v1h-3zM1075 608h3v1h-3zM1081 607h2v1h-2zM1087 605h3v1h-3zM1093 604h2v1h-2zM1099 602h2v1h-2zM1105 600h3v1h-3zM1111 599h3v1h-3zM1117 600h3v1h-3zM1123 601h3v1h-3zM1130 603h2v1h-2zM1136 606h2v1h-2zM1147 614h2v1h-2zM1159 623h2v1h-2zM1183 642h2v1h-2zM1189 646h2v1h-2zM1195 649h2v1h-2zM1201 651h2v1h-2zM1208 654h2v1h-2zM1213 655h3v1h-3zM1219 655h2v1h-2zM1225 654h3v1h-3zM1231 654h3v1h-3zM1237 653h3v1h-3zM1243 652h3v1h-3zM1249 651h2v1h-2zM1255 649h3v1h-3zM1261 648h2v1h-2zM1267 647h2v1h-2zM1273 646h3v1h-3zM1279 645h3v1h-3zM1285 644h3v1h-3zM1291 644h2v1h-2zM1297 643h3v1h-3zM1303 643h3v1h-3zM1309 644h3v1h-3zM1315 644h2v1h-2zM1321 645h3v1h-3zM1327 645h3v1h-3zM1333 646h3v1h-3zM1339 646h3v1h-3zM1345 646h3v1h-3zM1351 646h3v1h-3zM1357 647h3v1h-3zM1363 647h2v1h-2zM1369 648h3v1h-3zM1375 648h3v1h-3zM1381 649h3v1h-3zM1387 649h3v1h-3zM1393 649h2v1h-2zM1399 651h3v1h-3zM1405 652h2v1h-2zM3 631h1v1h-1zM45 631h1v1h-1zM69 628h1v1h-1zM93 629h1v1h-1zM99 630h1v1h-1zM115 635h1v1h-1zM121 638h1v1h-1zM127 641h1v1h-1zM135 646h1v1h-1zM139 648h1v1h-1zM140 649h1v1h-1zM141 650h1v1h-1zM145 652h1v1h-1zM153 657h1v1h-1zM159 661h1v1h-1zM163 663h1v1h-1zM164 664h1v1h-1zM165 665h1v1h-1zM171 668h1v1h-1zM175 669h1v1h-1zM183 672h1v1h-1zM189 673h1v1h-1zM219 671h1v1h-1zM231 668h1v1h-1zM261 670h1v1h-1zM267 671h1v1h-1zM279 674h1v1h-1zM291 677h1v1h-1zM295 678h1v1h-1zM303 681h1v1h-1zM309 682h1v1h-1zM363 686h1v1h-1zM367 687h1v1h-1zM379 692h1v1h-1zM385 695h1v1h-1zM393 700h1v1h-1zM399 704h1v1h-1zM403 706h1v1h-1zM404 707h1v1h-1zM405 708h1v1h-1zM409 710h1v1h-1zM417 715h1v1h-1zM423 719h1v1h-1zM427 721h1v1h-1zM433 724h1v1h-1zM441 729h1v1h-1zM459 735h1v1h-1zM477 738h1v1h-1zM501 735h1v1h-1zM505 734h1v1h-1zM511 731h1v1h-1zM517 728h1v1h-1zM525 723h1v1h-1zM529 720h1v1h-1zM530 719h1v1h-1zM531 718h1v1h-1zM537 714h1v1h-1zM543 709h1v1h-1zM547 705h1v1h-1zM548 704h1v1h-1zM549 703h1v1h-1zM553 700h1v1h-1zM554 699h1v1h-1zM555 698h1v1h-1zM561 694h1v1h-1zM567 690h1v1h-1zM573 686h1v1h-1zM577 683h1v1h-1zM585 678h1v1h-1zM589 676h1v1h-1zM595 673h1v1h-1zM601 670h1v1h-1zM607 667h1v1h-1zM613 664h1v1h-1zM619 661h1v1h-1zM627 657h1v1h-1zM631 656h1v1h-1zM645 650h1v1h-1zM649 649h1v1h-1zM655 646h1v1h-1zM675 639h1v1h-1zM693 636h1v1h-1zM717 633h1v1h-1zM765 629h1v1h-1zM771 628h1v1h-1zM789 625h1v1h-1zM819 620h1v1h-1zM823 619h1v1h-1zM835 614h1v1h-1zM841 611h1v1h-1zM847 608h1v1h-1zM861 602h1v1h-1zM867 600h1v1h-1zM879 597h1v1h-1zM903 600h1v1h-1zM909 602h1v1h-1zM913 603h1v1h-1zM919 606h1v1h-1zM925 609h1v1h-1zM933 613h1v1h-1zM939 615h1v1h-1zM951 618h1v1h-1zM957 619h1v1h-1zM999 615h1v1h-1zM1005 614h1v1h-1zM1029 613h1v1h-1zM1053 612h1v1h-1zM1059 611h1v1h-1zM1083 606h1v1h-1zM1095 603h1v1h-1zM1101 601h1v1h-1zM1129 602h1v1h-1zM1135 605h1v1h-1zM1141 609h1v1h-1zM1142 610h1v1h-1zM1143 611h1v1h-1zM1149 615h1v1h-1zM1153 618h1v1h-1zM1154 619h1v1h-1zM1155 620h1v1h-1zM1161 624h1v1h-1zM1165 627h1v1h-1zM1166 628h1v1h-1zM1167 629h1v1h-1zM1171 632h1v1h-1zM1172 633h1v1h-1zM1173 634h1v1h-1zM1177 637h1v1h-1zM1178 638h1v1h-1zM1179 639h1v1h-1zM1185 643h1v1h-1zM1191 647h1v1h-1zM1197 650h1v1h-1zM1203 652h1v1h-1zM1207 653h1v1h-1zM1221 654h1v1h-1zM1251 650h1v1h-1zM1263 647h1v1h-1zM1269 646h1v1h-1zM1293 643h1v1h-1zM1317 645h1v1h-1zM1365 648h1v1h-1zM1395 650h1v1h-1zM1407 653h1v1h-1z" fill="#ff0000"/>
</g>
<g clip-path="url(#cmacd)">
<polygon points="1321.9,643.7 1421.8,662.9 1421.0,666.8 1433.4,663.3 1423.2,655.4 1422.4,659.4 1322.5,640.3" fill="#ff0000"/>
</g>
<text x="-1.5" y="593" font-size="9.5" fill="#000" textLength="132" lengthAdjust="spacingAndGlyphs">MACD(12,26,9) -0.0868 -0.0208</text>
<text x="1656" y="590.6" font-size="9.5" fill="#000" textLength="23" lengthAdjust="spacingAndGlyphs">0.485</text>
<text x="1656" y="653.5" font-size="9.5" fill="#000" textLength="18" lengthAdjust="spacingAndGlyphs">0.00</text>
<text x="1656" y="747" font-size="9.5" fill="#000" textLength="30" lengthAdjust="spacingAndGlyphs">-0.7071</text>
<g shape-rendering="crispEdges">
<rect x="1653" y="582" width="2" height="1" fill="#000"/>
<rect x="1653" y="650" width="2" height="1" fill="#000"/>
<rect x="1653" y="749" width="2" height="1" fill="#000"/>
</g>
<g clip-path="url(#crsi)" shape-rendering="crispEdges">
<line x1="0" y1="788.5" x2="1652" y2="788.5" stroke="#c0c0c0" stroke-width="1" stroke-dasharray="3 3"/>
<line x1="0" y1="839.5" x2="1652" y2="839.5" stroke="#c0c0c0" stroke-width="1" stroke-dasharray="3 3"/>
<line x1="0" y1="900.5" x2="1652" y2="900.5" stroke="#c0c0c0" stroke-width="1" stroke-dasharray="3 3"/>
<path d="M1 829h2v1h-2zM3 828h2v1h-2zM5 827h3v1h-3zM8 826h5v1h-5zM13 825h5v1h-5zM18 824h2v1h-2zM21 822h2v1h-2zM23 821h2v1h-2zM26 821h2v1h-2zM29 823h2v1h-2zM31 824h2v1h-2zM33 825h4v1h-4zM37 824h5v1h-5zM42 825h2v1h-2zM45 827h2v1h-2zM47 828h2v1h-2zM66 833h2v1h-2zM68 834h2v1h-2zM70 835h2v1h-2zM72 836h5v1h-5zM77 835h6v1h-6zM83 834h2v1h-2zM85 833h3v1h-3zM88 832h2v1h-2zM101 851h2v1h-2zM105 854h9v1h-9zM121 864h2v1h-2zM123 863h2v1h-2zM125 862h3v1h-3zM128 861h3v1h-3zM131 860h2v1h-2zM133 859h3v1h-3zM136 858h2v1h-2zM155 853h2v1h-2zM159 850h2v1h-2zM165 845h2v1h-2zM169 842h4v1h-4zM173 841h5v1h-5zM178 842h2v1h-2zM181 844h2v1h-2zM183 845h2v1h-2zM185 846h4v1h-4zM189 845h6v1h-6zM195 846h4v1h-4zM199 847h6v1h-6zM205 846h5v1h-5zM217 835h2v1h-2zM219 834h4v1h-4zM223 833h3v1h-3zM249 856h4v1h-4zM253 857h8v1h-8zM261 858h5v1h-5zM267 860h2v1h-2zM271 863h3v1h-3zM281 846h2v1h-2zM283 847h2v1h-2zM287 850h2v1h-2zM290 852h2v1h-2zM292 853h2v1h-2zM294 854h2v1h-2zM296 855h5v1h-5zM301 856h5v1h-5zM313 847h9v1h-9zM331 855h2v1h-2zM335 852h2v1h-2zM339 853h2v1h-2zM343 856h2v1h-2zM355 868h2v1h-2zM359 871h2v1h-2zM361 872h4v1h-4zM365 873h5v1h-5zM370 874h2v1h-2zM372 875h2v1h-2zM374 876h2v1h-2zM376 877h2v1h-2zM378 878h2v1h-2zM380 879h2v1h-2zM382 880h2v1h-2zM384 881h10v1h-10zM397 877h2v1h-2zM402 873h2v1h-2zM405 871h2v1h-2zM407 870h2v1h-2zM411 871h2v1h-2zM415 874h2v1h-2zM425 883h2v1h-2zM427 884h4v1h-4zM431 885h6v1h-6zM437 884h5v1h-5zM466 869h2v1h-2zM469 871h2v1h-2zM471 872h2v1h-2zM489 850h2v1h-2zM491 851h2v1h-2zM493 852h3v1h-3zM496 853h5v1h-5zM501 854h6v1h-6zM507 853h4v1h-4zM511 852h3v1h-3zM521 839h2v1h-2zM523 838h2v1h-2zM525 837h3v1h-3zM528 836h2v1h-2zM531 838h2v1h-2zM535 841h2v1h-2zM541 838h2v1h-2zM553 846h2v1h-2zM555 847h2v1h-2zM557 848h3v1h-3zM560 849h2v1h-2zM587 840h2v1h-2zM591 837h2v1h-2zM593 836h2v1h-2zM595 835h2v1h-2zM597 834h3v1h-3zM600 833h2v1h-2zM603 831h2v1h-2zM607 828h2v1h-2zM609 827h9v1h-9zM637 840h2v1h-2zM649 827h2v1h-2zM651 826h2v1h-2zM653 825h3v1h-3zM656 824h2v1h-2zM661 828h2v1h-2zM667 833h2v1h-2zM671 836h2v1h-2zM673 837h2v1h-2zM675 836h2v1h-2zM677 835h3v1h-3zM680 834h5v1h-5zM685 833h5v1h-5zM693 837h2v1h-2zM709 834h2v1h-2zM721 829h10v1h-10zM731 828h2v1h-2zM733 827h3v1h-3zM736 826h19v1h-19zM755 827h2v1h-2zM757 828h3v1h-3zM760 829h3v1h-3zM763 828h2v1h-2zM765 827h3v1h-3zM768 826h2v1h-2zM771 824h2v1h-2zM775 821h2v1h-2zM785 829h2v1h-2zM787 828h4v1h-4zM791 827h3v1h-3zM794 826h2v1h-2zM796 825h2v1h-2zM798 824h2v1h-2zM800 823h2v1h-2zM821 805h2v1h-2zM825 808h2v1h-2zM827 807h4v1h-4zM831 806h6v1h-6zM837 805h6v1h-6zM843 806h4v1h-4zM847 807h3v1h-3zM857 825h2v1h-2zM859 824h4v1h-4zM863 823h6v1h-6zM869 824h21v1h-21zM890 823h2v1h-2zM893 821h2v1h-2zM895 820h3v1h-3zM905 848h2v1h-2zM913 837h2v1h-2zM915 836h2v1h-2zM917 835h3v1h-3zM920 834h5v1h-5zM925 835h5v1h-5zM937 825h2v1h-2zM939 824h4v1h-4zM943 823h6v1h-6zM949 822h5v1h-5zM969 820h2v1h-2zM971 819h4v1h-4zM975 818h4v1h-4zM979 819h4v1h-4zM983 820h4v1h-4zM987 821h2v1h-2zM989 822h3v1h-3zM992 823h2v1h-2zM1009 828h2v1h-2zM1011 829h2v1h-2zM1013 830h3v1h-3zM1016 831h2v1h-2zM1018 830h2v1h-2zM1020 829h2v1h-2zM1022 828h2v1h-2zM1024 827h3v1h-3zM1027 828h2v1h-2zM1029 829h3v1h-3zM1032 830h2v1h-2zM1037 826h2v1h-2zM1056 799h2v1h-2zM1065 817h2v1h-2zM1067 818h4v1h-4zM1071 819h6v1h-6zM1077 820h5v1h-5zM1085 824h2v1h-2zM1093 823h2v1h-2zM1099 818h2v1h-2zM1103 815h3v1h-3zM1113 848h2v1h-2zM1113 849h2v1h-2zM1129 845h2v1h-2zM1131 846h4v1h-4zM1135 847h3v1h-3zM1154 845h2v1h-2zM1156 844h2v1h-2zM1158 843h2v1h-2zM1160 842h11v1h-11zM1171 843h2v1h-2zM1173 844h3v1h-3zM1176 845h3v1h-3zM1179 846h2v1h-2zM1181 847h3v1h-3zM1184 848h2v1h-2zM1193 837h2v1h-2zM1195 838h4v1h-4zM1199 839h12v1h-12zM1211 838h4v1h-4zM1215 837h6v1h-6zM1221 836h5v1h-5zM1226 835h2v1h-2zM1228 834h2v1h-2zM1230 833h2v1h-2zM1232 832h5v1h-5zM1237 831h6v1h-6zM1243 832h4v1h-4zM1247 833h3v1h-3zM1250 832h2v1h-2zM1252 831h2v1h-2zM1254 830h2v1h-2zM1256 829h2v1h-2zM1261 833h2v1h-2zM1282 836h2v1h-2zM1285 838h2v1h-2zM1287 839h2v1h-2zM1289 840h4v1h-4zM1293 839h6v1h-6zM1299 840h2v1h-2zM1301 841h3v1h-3zM1304 842h3v1h-3zM1307 843h2v1h-2zM1309 844h3v1h-3zM1312 845h2v1h-2zM1321 835h2v1h-2zM1323 834h2v1h-2zM1325 833h3v1h-3zM1328 832h5v1h-5zM1333 833h5v1h-5zM1346 844h2v1h-2zM1348 843h2v1h-2zM1350 842h2v1h-2zM1352 841h2v1h-2zM1369 840h2v1h-2zM1371 839h4v1h-4zM1375 838h3v1h-3zM1378 839h2v1h-2zM1381 841h2v1h-2zM1383 842h2v1h-2zM1386 844h2v1h-2zM1389 846h2v1h-2zM1391 847h2v1h-2zM1394 849h2v1h-2zM1396 850h2v1h-2zM1398 851h2v1h-2zM1400 852h5v1h-5zM1405 853h5v1h-5zM20 823h1v1h-1zM25 820h1v1h-1zM28 822h1v1h-1zM44 826h1v1h-1zM49 829h1v1h-1zM50 830h1v2h-1zM51 832h1v2h-1zM52 834h1v1h-1zM53 835h1v2h-1zM54 837h1v1h-1zM55 838h1v2h-1zM56 840h1v2h-1zM57 842h1v1h-1zM58 841h1v1h-1zM59 839h1v2h-1zM60 838h1v1h-1zM61 837h1v1h-1zM62 836h1v1h-1zM63 834h1v2h-1zM64 833h1v1h-1zM65 832h1v1h-1zM90 833h1v2h-1zM91 835h1v2h-1zM92 837h1v2h-1zM93 839h1v2h-1zM94 841h1v2h-1zM95 843h1v2h-1zM96 845h1v2h-1zM97 847h1v1h-1zM98 848h1v1h-1zM99 849h1v1h-1zM100 850h1v1h-1zM103 852h1v1h-1zM104 853h1v1h-1zM114 855h1v1h-1zM115 856h1v2h-1zM116 858h1v1h-1zM117 859h1v1h-1zM118 860h1v1h-1zM119 861h1v2h-1zM120 863h1v1h-1zM138 859h1v2h-1zM139 861h1v2h-1zM140 863h1v1h-1zM141 864h1v2h-1zM142 866h1v1h-1zM143 867h1v2h-1zM144 869h1v2h-1zM145 871h1v1h-1zM146 869h1v2h-1zM147 867h1v2h-1zM148 865h1v2h-1zM149 863h1v2h-1zM150 861h1v2h-1zM151 859h1v2h-1zM152 857h1v2h-1zM153 855h1v2h-1zM154 854h1v1h-1zM157 852h1v1h-1zM158 851h1v1h-1zM161 849h1v1h-1zM162 848h1v1h-1zM163 847h1v1h-1zM164 846h1v1h-1zM167 844h1v1h-1zM168 843h1v1h-1zM180 843h1v1h-1zM210 844h1v2h-1zM211 843h1v1h-1zM212 842h1v1h-1zM213 840h1v2h-1zM214 839h1v1h-1zM215 838h1v1h-1zM216 836h1v2h-1zM225 834h1v1h-1zM226 835h1v3h-1zM227 838h1v3h-1zM228 841h1v3h-1zM229 844h1v2h-1zM230 846h1v3h-1zM231 849h1v3h-1zM232 852h1v3h-1zM233 855h1v2h-1zM234 857h1v1h-1zM235 858h1v1h-1zM236 859h1v1h-1zM237 860h1v2h-1zM238 862h1v1h-1zM239 863h1v1h-1zM240 864h1v1h-1zM241 865h1v1h-1zM242 864h1v1h-1zM243 863h1v1h-1zM244 862h1v1h-1zM245 860h1v2h-1zM246 859h1v1h-1zM247 858h1v1h-1zM248 857h1v1h-1zM266 859h1v1h-1zM269 861h1v1h-1zM270 862h1v1h-1zM273 864h1v1h-1zM274 861h1v2h-1zM275 859h1v2h-1zM276 856h1v3h-1zM277 854h1v2h-1zM278 851h1v3h-1zM279 849h1v2h-1zM280 847h1v2h-1zM281 845h1v1h-1zM285 848h1v1h-1zM286 849h1v1h-1zM289 851h1v1h-1zM306 855h1v1h-1zM307 854h1v1h-1zM308 853h1v1h-1zM309 851h1v2h-1zM310 850h1v1h-1zM311 849h1v1h-1zM312 848h1v1h-1zM322 848h1v1h-1zM323 849h1v2h-1zM324 851h1v1h-1zM325 852h1v1h-1zM326 853h1v1h-1zM327 854h1v2h-1zM328 856h1v1h-1zM329 857h1v1h-1zM330 856h1v1h-1zM333 854h1v1h-1zM334 853h1v1h-1zM337 851h1v1h-1zM338 852h1v1h-1zM341 854h1v1h-1zM342 855h1v1h-1zM345 857h1v1h-1zM346 858h1v1h-1zM347 859h1v1h-1zM348 860h1v1h-1zM349 861h1v2h-1zM350 863h1v1h-1zM351 864h1v1h-1zM352 865h1v1h-1zM353 866h1v1h-1zM354 867h1v1h-1zM357 869h1v1h-1zM358 870h1v1h-1zM394 880h1v1h-1zM395 879h1v1h-1zM396 878h1v1h-1zM399 876h1v1h-1zM400 875h1v1h-1zM401 874h1v1h-1zM404 872h1v1h-1zM409 869h1v1h-1zM410 870h1v1h-1zM413 872h1v1h-1zM414 873h1v1h-1zM417 875h1v1h-1zM418 876h1v1h-1zM419 877h1v1h-1zM420 878h1v1h-1zM421 879h1v1h-1zM422 880h1v1h-1zM423 881h1v1h-1zM424 882h1v1h-1zM442 882h1v2h-1zM443 880h1v2h-1zM444 878h1v2h-1zM445 876h1v2h-1zM446 874h1v2h-1zM447 872h1v2h-1zM448 870h1v2h-1zM449 869h1v1h-1zM450 870h1v1h-1zM451 871h1v1h-1zM452 872h1v1h-1zM453 873h1v1h-1zM454 874h1v1h-1zM455 875h1v1h-1zM456 876h1v1h-1zM457 877h1v1h-1zM458 876h1v1h-1zM459 875h1v1h-1zM460 874h1v1h-1zM461 872h1v2h-1zM462 871h1v1h-1zM463 870h1v1h-1zM464 869h1v1h-1zM465 868h1v1h-1zM468 870h1v1h-1zM473 873h1v1h-1zM474 871h1v2h-1zM475 869h1v2h-1zM476 868h1v1h-1zM477 866h1v2h-1zM478 865h1v1h-1zM479 863h1v2h-1zM480 861h1v2h-1zM481 860h1v1h-1zM482 859h1v1h-1zM483 857h1v2h-1zM484 856h1v1h-1zM485 855h1v1h-1zM486 854h1v1h-1zM487 852h1v2h-1zM488 851h1v1h-1zM514 850h1v2h-1zM515 848h1v2h-1zM516 847h1v1h-1zM517 845h1v2h-1zM518 844h1v1h-1zM519 842h1v2h-1zM520 840h1v2h-1zM530 837h1v1h-1zM533 839h1v1h-1zM534 840h1v1h-1zM537 842h1v1h-1zM538 841h1v1h-1zM539 840h1v1h-1zM540 839h1v1h-1zM543 837h1v1h-1zM544 836h1v1h-1zM545 835h1v1h-1zM546 836h1v2h-1zM547 838h1v1h-1zM548 839h1v1h-1zM549 840h1v2h-1zM550 842h1v1h-1zM551 843h1v1h-1zM552 844h1v2h-1zM562 848h1v1h-1zM563 847h1v1h-1zM564 846h1v1h-1zM565 845h1v1h-1zM566 844h1v1h-1zM567 843h1v1h-1zM568 842h1v1h-1zM569 841h1v1h-1zM570 840h1v1h-1zM571 839h1v1h-1zM572 838h1v1h-1zM573 836h1v2h-1zM574 835h1v1h-1zM575 834h1v1h-1zM576 833h1v1h-1zM577 832h1v1h-1zM578 833h1v1h-1zM579 834h1v2h-1zM580 836h1v1h-1zM581 837h1v1h-1zM582 838h1v1h-1zM583 839h1v2h-1zM584 841h1v1h-1zM585 842h1v1h-1zM586 841h1v1h-1zM589 839h1v1h-1zM590 838h1v1h-1zM602 832h1v1h-1zM605 830h1v1h-1zM606 829h1v1h-1zM618 828h1v1h-1zM619 829h1v1h-1zM620 830h1v1h-1zM621 831h1v2h-1zM622 833h1v1h-1zM623 834h1v1h-1zM624 835h1v1h-1zM625 836h1v1h-1zM626 837h1v1h-1zM627 838h1v1h-1zM628 839h1v1h-1zM629 840h1v1h-1zM630 841h1v1h-1zM631 842h1v1h-1zM632 843h1v1h-1zM633 844h1v1h-1zM634 843h1v1h-1zM635 842h1v1h-1zM636 841h1v1h-1zM639 839h1v1h-1zM640 838h1v1h-1zM641 837h1v1h-1zM642 836h1v1h-1zM643 834h1v2h-1zM644 833h1v1h-1zM645 832h1v1h-1zM646 831h1v1h-1zM647 829h1v2h-1zM648 828h1v1h-1zM658 825h1v1h-1zM659 826h1v1h-1zM660 827h1v1h-1zM663 829h1v1h-1zM664 830h1v1h-1zM665 831h1v1h-1zM666 832h1v1h-1zM669 834h1v1h-1zM670 835h1v1h-1zM690 834h1v1h-1zM691 835h1v1h-1zM692 836h1v1h-1zM695 838h1v1h-1zM696 839h1v1h-1zM697 840h1v1h-1zM698 839h1v1h-1zM699 837h1v2h-1zM700 836h1v1h-1zM701 835h1v1h-1zM702 834h1v1h-1zM703 832h1v2h-1zM704 831h1v1h-1zM705 830h1v1h-1zM706 831h1v1h-1zM707 832h1v1h-1zM708 833h1v1h-1zM711 835h1v1h-1zM712 836h1v1h-1zM713 837h1v1h-1zM714 836h1v1h-1zM715 835h1v1h-1zM716 834h1v1h-1zM717 833h1v1h-1zM718 832h1v1h-1zM719 831h1v1h-1zM720 830h1v1h-1zM770 825h1v1h-1zM773 823h1v1h-1zM774 822h1v1h-1zM777 820h1v1h-1zM778 821h1v1h-1zM779 822h1v1h-1zM780 823h1v1h-1zM781 824h1v2h-1zM782 826h1v1h-1zM783 827h1v1h-1zM784 828h1v1h-1zM802 821h1v2h-1zM803 820h1v1h-1zM804 819h1v1h-1zM805 817h1v2h-1zM806 816h1v1h-1zM807 815h1v1h-1zM808 813h1v2h-1zM809 812h1v1h-1zM810 810h1v2h-1zM811 809h1v1h-1zM812 808h1v1h-1zM813 806h1v2h-1zM814 805h1v1h-1zM815 804h1v1h-1zM816 802h1v2h-1zM817 801h1v1h-1zM818 802h1v1h-1zM819 803h1v1h-1zM820 804h1v1h-1zM823 806h1v1h-1zM824 807h1v1h-1zM849 808h1v1h-1zM850 809h1v2h-1zM851 811h1v2h-1zM852 813h1v2h-1zM853 815h1v3h-1zM854 818h1v2h-1zM855 820h1v2h-1zM856 822h1v2h-1zM857 824h1v1h-1zM892 822h1v1h-1zM897 819h1v1h-1zM898 821h1v4h-1zM899 825h1v4h-1zM900 829h1v4h-1zM901 833h1v3h-1zM902 836h1v4h-1zM903 840h1v4h-1zM904 844h1v4h-1zM905 849h1v1h-1zM906 847h1v1h-1zM907 846h1v1h-1zM908 844h1v2h-1zM909 843h1v1h-1zM910 841h1v2h-1zM911 840h1v1h-1zM912 838h1v2h-1zM930 834h1v1h-1zM931 832h1v2h-1zM932 831h1v1h-1zM933 830h1v1h-1zM934 829h1v1h-1zM935 827h1v2h-1zM936 826h1v1h-1zM954 821h1v1h-1zM955 819h1v2h-1zM956 818h1v1h-1zM957 817h1v1h-1zM958 816h1v1h-1zM959 814h1v2h-1zM960 813h1v1h-1zM961 812h1v1h-1zM962 813h1v1h-1zM963 814h1v1h-1zM964 815h1v1h-1zM965 816h1v1h-1zM966 817h1v1h-1zM967 818h1v1h-1zM968 819h1v1h-1zM994 822h1v1h-1zM995 821h1v1h-1zM996 820h1v1h-1zM997 819h1v1h-1zM998 818h1v1h-1zM999 817h1v1h-1zM1000 816h1v1h-1zM1001 815h1v1h-1zM1002 816h1v2h-1zM1003 818h1v2h-1zM1004 820h1v1h-1zM1005 821h1v2h-1zM1006 823h1v1h-1zM1007 824h1v2h-1zM1008 826h1v2h-1zM1034 829h1v1h-1zM1035 828h1v1h-1zM1036 827h1v1h-1zM1039 825h1v1h-1zM1040 824h1v1h-1zM1041 823h1v1h-1zM1042 821h1v2h-1zM1043 819h1v2h-1zM1044 818h1v1h-1zM1045 816h1v2h-1zM1046 815h1v1h-1zM1047 813h1v2h-1zM1048 811h1v2h-1zM1049 810h1v1h-1zM1050 808h1v2h-1zM1051 807h1v1h-1zM1052 805h1v2h-1zM1053 804h1v1h-1zM1054 802h1v2h-1zM1055 801h1v1h-1zM1056 800h1v1h-1zM1057 798h1v1h-1zM1058 800h1v2h-1zM1059 802h1v2h-1zM1060 804h1v3h-1zM1061 807h1v2h-1zM1062 809h1v3h-1zM1063 812h1v2h-1zM1064 814h1v2h-1zM1065 816h1v1h-1zM1082 821h1v1h-1zM1083 822h1v1h-1zM1084 823h1v1h-1zM1087 825h1v1h-1zM1088 826h1v1h-1zM1089 827h1v1h-1zM1090 826h1v1h-1zM1091 825h1v1h-1zM1092 824h1v1h-1zM1095 822h1v1h-1zM1096 821h1v1h-1zM1097 820h1v1h-1zM1098 819h1v1h-1zM1101 817h1v1h-1zM1102 816h1v1h-1zM1105 814h1v1h-1zM1105 816h1v1h-1zM1106 817h1v4h-1zM1107 821h1v5h-1zM1108 826h1v4h-1zM1109 830h1v5h-1zM1110 835h1v4h-1zM1111 839h1v5h-1zM1112 844h1v4h-1zM1113 850h1v1h-1zM1115 846h1v2h-1zM1116 845h1v1h-1zM1117 843h1v2h-1zM1118 842h1v1h-1zM1119 840h1v2h-1zM1120 838h1v2h-1zM1121 837h1v1h-1zM1122 838h1v1h-1zM1123 839h1v1h-1zM1124 840h1v1h-1zM1125 841h1v1h-1zM1126 842h1v1h-1zM1127 843h1v1h-1zM1128 844h1v1h-1zM1138 848h1v1h-1zM1139 849h1v1h-1zM1140 850h1v1h-1zM1141 851h1v2h-1zM1142 853h1v1h-1zM1143 854h1v1h-1zM1144 855h1v1h-1zM1145 856h1v1h-1zM1146 855h1v1h-1zM1147 853h1v2h-1zM1148 852h1v1h-1zM1149 851h1v1h-1zM1150 850h1v1h-1zM1151 848h1v2h-1zM1152 847h1v1h-1zM1153 846h1v1h-1zM1186 846h1v2h-1zM1187 845h1v1h-1zM1188 844h1v1h-1zM1189 842h1v2h-1zM1190 841h1v1h-1zM1191 840h1v1h-1zM1192 838h1v2h-1zM1258 830h1v1h-1zM1259 831h1v1h-1zM1260 832h1v1h-1zM1263 834h1v1h-1zM1264 835h1v1h-1zM1265 836h1v1h-1zM1266 837h1v2h-1zM1267 839h1v2h-1zM1268 841h1v2h-1zM1269 843h1v1h-1zM1270 844h1v2h-1zM1271 846h1v2h-1zM1272 848h1v2h-1zM1273 850h1v1h-1zM1274 848h1v2h-1zM1275 846h1v2h-1zM1276 844h1v2h-1zM1277 842h1v2h-1zM1278 840h1v2h-1zM1279 838h1v2h-1zM1280 836h1v2h-1zM1281 835h1v1h-1zM1284 837h1v1h-1zM1314 844h1v1h-1zM1315 842h1v2h-1zM1316 841h1v1h-1zM1317 840h1v1h-1zM1318 839h1v1h-1zM1319 837h1v2h-1zM1320 836h1v1h-1zM1338 834h1v2h-1zM1339 836h1v1h-1zM1340 837h1v2h-1zM1341 839h1v1h-1zM1342 840h1v2h-1zM1343 842h1v1h-1zM1344 843h1v2h-1zM1345 845h1v1h-1zM1354 842h1v1h-1zM1355 843h1v1h-1zM1356 844h1v1h-1zM1357 845h1v1h-1zM1358 846h1v1h-1zM1359 847h1v1h-1zM1360 848h1v1h-1zM1361 849h1v1h-1zM1362 848h1v1h-1zM1363 847h1v1h-1zM1364 846h1v1h-1zM1365 844h1v2h-1zM1366 843h1v1h-1zM1367 842h1v1h-1zM1368 841h1v1h-1zM1380 840h1v1h-1zM1385 843h1v1h-1zM1388 845h1v1h-1zM1393 848h1v1h-1z" fill="#1e90ff"/>
</g>
<g clip-path="url(#crsi)">
<polygon points="1329.7,832.8 1403.3,854.1 1402.1,858.0 1414.8,855.6 1405.4,846.8 1404.2,850.7 1330.7,829.4" fill="#ff0000"/>
</g>
<text x="-3" y="765" font-size="9.5" fill="#000" textLength="68" lengthAdjust="spacingAndGlyphs">RSI(14) 42.0002</text>
<text x="1656" y="763" font-size="9.5" fill="#000" textLength="15" lengthAdjust="spacingAndGlyphs">100</text>
<text x="1656" y="792" font-size="9.5" fill="#000" textLength="10" lengthAdjust="spacingAndGlyphs">80</text>
<text x="1656" y="843" font-size="9.5" fill="#000" textLength="10" lengthAdjust="spacingAndGlyphs">50</text>
<text x="1656" y="904" font-size="9.5" fill="#000" textLength="10" lengthAdjust="spacingAndGlyphs">15</text>
<text x="1656" y="923" font-size="9.5" fill="#000" textLength="5" lengthAdjust="spacingAndGlyphs">0</text>
<g shape-rendering="crispEdges">
<rect x="1653" y="754" width="2" height="1" fill="#000"/>
<rect x="1653" y="788" width="2" height="1" fill="#000"/>
<rect x="1653" y="839" width="2" height="1" fill="#000"/>
<rect x="1653" y="900" width="2" height="1" fill="#000"/>
</g>
<g shape-rendering="crispEdges">
<rect x="57" y="927" width="1" height="3" fill="#000"/>
<rect x="121" y="927" width="1" height="3" fill="#000"/>
<rect x="185" y="927" width="1" height="3" fill="#000"/>
<rect x="249" y="927" width="1" height="3" fill="#000"/>
<rect x="313" y="927" width="1" height="3" fill="#000"/>
<rect x="377" y="927" width="1" height="3" fill="#000"/>
<rect x="441" y="927" width="1" height="3" fill="#000"/>
<rect x="505" y="927" width="1" height="3" fill="#000"/>
<rect x="569" y="927" width="1" height="3" fill="#000"/>
<rect x="633" y="927" width="1" height="3" fill="#000"/>
<rect x="697" y="927" width="1" height="3" fill="#000"/>
<rect x="761" y="927" width="1" height="3" fill="#000"/>
<rect x="825" y="927" width="1" height="3" fill="#000"/>
<rect x="889" y="927" width="1" height="3" fill="#000"/>
<rect x="953" y="927" width="1" height="3" fill="#000"/>
<rect x="1017" y="927" width="1" height="3" fill="#000"/>
<rect x="1081" y="927" width="1" height="3" fill="#000"/>
<rect x="1145" y="927" width="1" height="3" fill="#000"/>
<rect x="1209" y="927" width="1" height="3" fill="#000"/>
<rect x="1273" y="927" width="1" height="3" fill="#000"/>
<rect x="1337" y="927" width="1" height="3" fill="#000"/>
<rect x="1401" y="927" width="1" height="3" fill="#000"/>
</g>
<text x="-8" y="939" font-size="9.5" fill="#000" textLength="50" lengthAdjust="spacingAndGlyphs">11 Jan 2022</text>
<text x="57" y="939" font-size="9.5" fill="#000" textLength="53" lengthAdjust="spacingAndGlyphs">12 Jan 16:00</text>
<text x="121" y="939" font-size="9.5" fill="#000" textLength="53" lengthAdjust="spacingAndGlyphs">14 Jan 00:00</text>
<text x="185" y="939" font-size="9.5" fill="#000" textLength="53" lengthAdjust="spacingAndGlyphs">17 Jan 08:00</text>
<text x="249" y="939" font-size="9.5" fill="#000" textLength="53" lengthAdjust="spacingAndGlyphs">18 Jan 16:00</text>
<text x="313" y="939" font-size="9.5" fill="#000" textLength="53" lengthAdjust="spacingAndGlyphs">20 Jan 00:00</text>
<text x="377" y="939" font-size="9.5" fill="#000" textLength="53" lengthAdjust="spacingAndGlyphs">21 Jan 08:00</text>
<text x="441" y="939" font-size="9.5" fill="#000" textLength="53" lengthAdjust="spacingAndGlyphs">24 Jan 16:00</text>
<text x="505" y="939" font-size="9.5" fill="#000" textLength="53" lengthAdjust="spacingAndGlyphs">26 Jan 00:00</text>
<text x="569" y="939" font-size="9.5" fill="#000" textLength="53" lengthAdjust="spacingAndGlyphs">27 Jan 08:00</text>
<text x="633" y="939" font-size="9.5" fill="#000" textLength="53" lengthAdjust="spacingAndGlyphs">28 Jan 16:00</text>
<text x="697" y="939" font-size="9.5" fill="#000" textLength="49" lengthAdjust="spacingAndGlyphs">1 Feb 00:00</text>
<text x="761" y="939" font-size="9.5" fill="#000" textLength="49" lengthAdjust="spacingAndGlyphs">2 Feb 08:00</text>
<text x="825" y="939" font-size="9.5" fill="#000" textLength="49" lengthAdjust="spacingAndGlyphs">3 Feb 16:00</text>
<text x="889" y="939" font-size="9.5" fill="#000" textLength="49" lengthAdjust="spacingAndGlyphs">7 Feb 00:00</text>
<text x="953" y="939" font-size="9.5" fill="#000" textLength="49" lengthAdjust="spacingAndGlyphs">8 Feb 08:00</text>
<text x="1017" y="939" font-size="9.5" fill="#000" textLength="49" lengthAdjust="spacingAndGlyphs">9 Feb 16:00</text>
<text x="1081" y="939" font-size="9.5" fill="#000" textLength="53" lengthAdjust="spacingAndGlyphs">11 Feb 00:00</text>
<text x="1145" y="939" font-size="9.5" fill="#000" textLength="53" lengthAdjust="spacingAndGlyphs">14 Feb 08:00</text>
<text x="1209" y="939" font-size="9.5" fill="#000" textLength="53" lengthAdjust="spacingAndGlyphs">15 Feb 16:00</text>
<text x="1273" y="939" font-size="9.5" fill="#000" textLength="53" lengthAdjust="spacingAndGlyphs">17 Feb 00:00</text>
<text x="1337" y="939" font-size="9.5" fill="#000" textLength="53" lengthAdjust="spacingAndGlyphs">18 Feb 08:00</text>
<text x="1401" y="939" font-size="9.5" fill="#000" textLength="53" lengthAdjust="spacingAndGlyphs">21 Feb 16:00</text>
<polygon points="0,30 4,35 0,35" fill="#000"/>
<text x="8" y="36.5" font-size="9.5" fill="#000" textLength="200" lengthAdjust="spacingAndGlyphs">GBPJPY-,H4  156.120 156.197 156.005 156.054</text>
<g shape-rendering="crispEdges">
<rect x="0" y="45" width="215" height="57" fill="#fff"/>
<rect x="0" y="45" width="48" height="24" fill="url(#gbtn)"/>
<rect x="163" y="45" width="52" height="24" fill="url(#gbtn)"/>
<rect x="0" y="69" width="105" height="33" fill="url(#gprice)"/>
<rect x="107" y="69" width="108" height="33" fill="url(#gprice)"/>
<rect x="0" y="45" width="48" height="1" fill="#b00000"/>
<rect x="47" y="45" width="1" height="25" fill="#b00000"/>
<rect x="47" y="69" width="58" height="1" fill="#b00000"/>
<rect x="104" y="69" width="1" height="33" fill="#b00000"/>
<rect x="163" y="45" width="52" height="1" fill="#b00000"/>
<rect x="163" y="45" width="1" height="25" fill="#b00000"/>
<rect x="214" y="45" width="1" height="57" fill="#b00000"/>
<rect x="107" y="69" width="57" height="1" fill="#b00000"/>
<rect x="107" y="69" width="1" height="33" fill="#b00000"/>
<rect x="0" y="101" width="105" height="1" fill="#a80000"/>
<rect x="107" y="101" width="108" height="1" fill="#a80000"/>
<rect x="0" y="68" width="44" height="1" fill="#7a0000"/>
<rect x="0" y="69" width="44" height="1" fill="#f06060"/>
<rect x="167" y="68" width="44" height="1" fill="#7a0000"/>
<rect x="167" y="69" width="44" height="1" fill="#f06060"/>
<rect x="50.5" y="45.5" width="110" height="21" fill="url(#glot)" stroke="#a0a0a0"/>
<rect x="72" y="46" width="67" height="20" fill="#fff"/>
<rect x="71" y="46" width="1" height="20" fill="#b8b8b8"/>
<rect x="139" y="46" width="1" height="20" fill="#b8b8b8"/>
</g>
<polygon points="58,55 64,55 61,58" fill="#4a5ab0"/>
<polygon points="146,58 152,58 149,55" fill="#4a5ab0"/>
<text x="136" y="59.5" font-size="12" fill="#000" text-anchor="end">1.00</text>
<text x="8.5" y="60.7" font-size="12" fill="#fff" textLength="25.5" lengthAdjust="spacingAndGlyphs">SELL</text>
<text x="176.5" y="60.7" font-size="12" fill="#fff" textLength="23" lengthAdjust="spacingAndGlyphs">BUY</text>
<text x="19.4" y="97" font-size="12.5" fill="#fff" textLength="20" lengthAdjust="spacingAndGlyphs" font-weight="bold">156</text>
<text x="44" y="97" font-size="33.5" fill="#fff" textLength="34" lengthAdjust="spacingAndGlyphs" stroke="#c41a1a" stroke-width="0.45">05</text>
<text x="83" y="80.8" font-size="11" fill="#fff" textLength="7" lengthAdjust="spacingAndGlyphs" font-weight="bold">4</text>
<text x="130" y="97" font-size="12.5" fill="#fff" textLength="20" lengthAdjust="spacingAndGlyphs" font-weight="bold">156</text>
<text x="156" y="97" font-size="33.5" fill="#fff" textLength="33.5" lengthAdjust="spacingAndGlyphs" stroke="#c41a1a" stroke-width="0.45">10</text>
<text x="193.5" y="80.8" font-size="11" fill="#fff" textLength="7" lengthAdjust="spacingAndGlyphs" font-weight="bold">4</text>
<g shape-rendering="crispEdges">
<rect x="0" y="0" width="1699" height="21" fill="#f0f0f0"/>
<rect x="0" y="21" width="1699" height="1" fill="#9a9a9a"/>
<rect x="0" y="22" width="1699" height="1" fill="#6a6a6a"/>
<rect x="0" y="23" width="1699" height="2" fill="#fff"/>
<rect x="13" y="1" width="1" height="18" fill="#a0a0a0"/>
<rect x="14" y="1" width="1" height="18" fill="#ffffff"/>
<rect x="302" y="1" width="1" height="18" fill="#a0a0a0"/>
<rect x="303" y="1" width="1" height="18" fill="#ffffff"/>
<rect x="340" y="1" width="1" height="18" fill="#a0a0a0"/>
<rect x="341" y="1" width="1" height="18" fill="#ffffff"/>
<rect x="397" y="1" width="1" height="18" fill="#a0a0a0"/>
<rect x="398" y="1" width="1" height="18" fill="#ffffff"/>
<rect x="487" y="1" width="1" height="18" fill="#a0a0a0"/>
<rect x="488" y="1" width="1" height="18" fill="#ffffff"/>
<rect x="492" y="1" width="1" height="18" fill="#a0a0a0"/>
<rect x="493" y="1" width="1" height="18" fill="#ffffff"/>
<rect x="520" y="1" width="1" height="18" fill="#a0a0a0"/>
<rect x="521" y="1" width="1" height="18" fill="#ffffff"/>
<rect x="549" y="1" width="1" height="18" fill="#a0a0a0"/>
<rect x="550" y="1" width="1" height="18" fill="#ffffff"/>
<rect x="670" y="1" width="1" height="18" fill="#a0a0a0"/>
<rect x="671" y="1" width="1" height="18" fill="#ffffff"/>
<rect x="680" y="1" width="1" height="18" fill="#a0a0a0"/>
<rect x="681" y="1" width="1" height="18" fill="#ffffff"/>
<rect x="737" y="1" width="1" height="18" fill="#a0a0a0"/>
<rect x="738" y="1" width="1" height="18" fill="#ffffff"/>
<rect x="976" y="1" width="1" height="18" fill="#a0a0a0"/>
<rect x="977" y="1" width="1" height="18" fill="#ffffff"/>
<rect x="1126" y="1" width="1" height="18" fill="#a0a0a0"/>
<rect x="1127" y="1" width="1" height="18" fill="#ffffff"/>
<rect x="1237" y="1" width="1" height="18" fill="#a0a0a0"/>
<rect x="1238" y="1" width="1" height="18" fill="#ffffff"/>
<rect x="306" y="2" width="3" height="1" fill="#b0b0b0"/>
<rect x="306" y="4" width="3" height="1" fill="#b0b0b0"/>
<rect x="306" y="6" width="3" height="1" fill="#b0b0b0"/>
<rect x="306" y="8" width="3" height="1" fill="#b0b0b0"/>
<rect x="306" y="10" width="3" height="1" fill="#b0b0b0"/>
<rect x="306" y="12" width="3" height="1" fill="#b0b0b0"/>
<rect x="306" y="14" width="3" height="1" fill="#b0b0b0"/>
<rect x="306" y="16" width="3" height="1" fill="#b0b0b0"/>
<rect x="306" y="18" width="3" height="1" fill="#b0b0b0"/>
<rect x="401" y="2" width="3" height="1" fill="#b0b0b0"/>
<rect x="401" y="4" width="3" height="1" fill="#b0b0b0"/>
<rect x="401" y="6" width="3" height="1" fill="#b0b0b0"/>
<rect x="401" y="8" width="3" height="1" fill="#b0b0b0"/>
<rect x="401" y="10" width="3" height="1" fill="#b0b0b0"/>
<rect x="401" y="12" width="3" height="1" fill="#b0b0b0"/>
<rect x="401" y="14" width="3" height="1" fill="#b0b0b0"/>
<rect x="401" y="16" width="3" height="1" fill="#b0b0b0"/>
<rect x="401" y="18" width="3" height="1" fill="#b0b0b0"/>
<rect x="675" y="2" width="3" height="1" fill="#b0b0b0"/>
<rect x="675" y="4" width="3" height="1" fill="#b0b0b0"/>
<rect x="675" y="6" width="3" height="1" fill="#b0b0b0"/>
<rect x="675" y="8" width="3" height="1" fill="#b0b0b0"/>
<rect x="675" y="10" width="3" height="1" fill="#b0b0b0"/>
<rect x="675" y="12" width="3" height="1" fill="#b0b0b0"/>
<rect x="675" y="14" width="3" height="1" fill="#b0b0b0"/>
<rect x="675" y="16" width="3" height="1" fill="#b0b0b0"/>
<rect x="675" y="18" width="3" height="1" fill="#b0b0b0"/>
<rect x="980" y="2" width="3" height="1" fill="#b0b0b0"/>
<rect x="980" y="4" width="3" height="1" fill="#b0b0b0"/>
<rect x="980" y="6" width="3" height="1" fill="#b0b0b0"/>
<rect x="980" y="8" width="3" height="1" fill="#b0b0b0"/>
<rect x="980" y="10" width="3" height="1" fill="#b0b0b0"/>
<rect x="980" y="12" width="3" height="1" fill="#b0b0b0"/>
<rect x="980" y="14" width="3" height="1" fill="#b0b0b0"/>
<rect x="980" y="16" width="3" height="1" fill="#b0b0b0"/>
<rect x="980" y="18" width="3" height="1" fill="#b0b0b0"/>
<rect x="341" y="0" width="24" height="19" fill="#f8f8f8"/>
<rect x="493" y="0" width="24" height="19" fill="#f8f8f8"/>
<rect x="521" y="0" width="24" height="19" fill="#f8f8f8"/>
<rect x="681" y="0" width="24" height="19" fill="#f8f8f8"/>
<rect x="1127" y="0" width="24" height="19" fill="#f8f8f8"/>
</g>
<g>
<circle cx="1" cy="9" r="3.5" fill="#cfe3f5" stroke="#5a8fd0" stroke-width="1.2"/>
<line x1="2" y1="13" x2="5" y2="17" stroke="#c8a030" stroke-width="2"/>
<polygon points="7.5,6.5 9.5,8.5 7.5,10.5 5.5,8.5" fill="none" stroke="#000" stroke-width="0.8"/>
<path d="M23.5,2.5 h8 l3,3 v9 h-11 z" fill="#fff" stroke="#777" stroke-width="1"/>
<rect x="25" y="4" width="4" height="1" fill="#999"/><rect x="25" y="7" width="6" height="1" fill="#bbb"/><rect x="25" y="9" width="6" height="1" fill="#bbb"/>
<path d="M30,8 h3 v3 h3 v3 h-3 v3 h-3 v-3 h-3 v-3 h3 z" fill="#22c022" stroke="#0a8a0a" stroke-width="1"/>
<text x="42.4" y="12" font-size="12.5" fill="#000" textLength="64.5" lengthAdjust="spacingAndGlyphs">New Order</text>
<defs><linearGradient id="gbook" x1="0" y1="0" x2="1" y2="1"><stop offset="0" stop-color="#fbe89a"/><stop offset="0.6" stop-color="#e6b832"/><stop offset="1" stop-color="#b07818"/></linearGradient><linearGradient id="gbox" x1="0" y1="0" x2="0" y2="1"><stop offset="0" stop-color="#5ab4f8"/><stop offset="1" stop-color="#1a70d0"/></linearGradient></defs>
<path d="M119.5,10.5 L124.5,2.5 L134.5,9.5 L130,16.5 Z" fill="url(#gbook)" stroke="#9a6a10" stroke-width="0.9"/>
<path d="M120,12 L129.5,17.5 L134,10.5" fill="none" stroke="#c08a20" stroke-width="1.2"/>
<path d="M149.5,3.5 l3,-2 h7 v9 h-10 z" fill="url(#gbox)" stroke="#1058b0" stroke-width="0.8"/>
<path d="M153,5.5 h5 M153,7.5 h5" stroke="#e8f4ff" stroke-width="0.8"/>
<path d="M148.5,16.5 h13 a2.5,2.5 0 0 0 0,-5 a3,3 0 0 0 -4,-2 a3.5,3.5 0 0 0 -6,1 a3,3 0 0 0 -3,6 z" fill="#f2f4f8" stroke="#6a7ea8" stroke-width="0.9"/>
<circle cx="183" cy="9" r="7" fill="none" stroke="#8ab0d8" stroke-width="1"/><circle cx="183" cy="9" r="4.5" fill="none" stroke="#6090c8" stroke-width="1"/><circle cx="183" cy="9" r="1.5" fill="#2050c0"/>
<path d="M183,9 v8 l5,-3" fill="none" stroke="#30a030" stroke-width="1.2"/>
<path d="M203,11 l8,6 l7,-6 z" fill="#f0d040" stroke="#c09020"/>
<ellipse cx="210" cy="6.5" rx="7.5" ry="3.5" fill="#60a8e0" stroke="#3070b0"/>
<circle cx="214.5" cy="13" r="4" fill="#e02020"/><rect x="213" y="11.5" width="3" height="3" fill="#fff"/>
<text x="223.5" y="12" font-size="12.5" fill="#000" textLength="71" lengthAdjust="spacingAndGlyphs">AutoTrading</text>
<path d="M320.5,2 v14 M318,15.5 h14 M319,4 l1.5,-2 l1.5,2 M331,14 l1.5,1.5 l-1.5,1.5" fill="none" stroke="#404040" stroke-width="1"/>
<path d="M323.5,13 v-7 h2 M327.5,11 v-7 h2" fill="none" stroke="#20a020" stroke-width="1.2"/>
<path d="M348.5,2 v14 M346,15.5 h14 M347,4 l1.5,-2 l1.5,2 M359,14 l1.5,1.5 l-1.5,1.5" fill="none" stroke="#404040" stroke-width="1"/>
<rect x="352" y="4" width="4" height="8" fill="#30d030" stroke="#108010"/><path d="M354,1 v14" stroke="#108010"/>
<path d="M376.5,2 v14 M374,15.5 h14 M375,4 l1.5,-2 l1.5,2 M387,14 l1.5,1.5 l-1.5,1.5" fill="none" stroke="#404040" stroke-width="1"/>
<path d="M377,12 q4,-7 8,-4 l3,2" fill="none" stroke="#30a030" stroke-width="1.2"/>
<circle cx="412" cy="7.5" r="5.5" fill="#d8ecfb" stroke="#3a80d0" stroke-width="1.2"/>
<line x1="416" y1="11.5" x2="420" y2="16" stroke="#c8a020" stroke-width="2.2"/>
<rect x="409" y="6.5" width="6" height="2" fill="#2a70c0"/>
<rect x="411" y="4.5" width="2" height="6" fill="#2a70c0"/>
<circle cx="440" cy="7.5" r="5.5" fill="#d8ecfb" stroke="#3a80d0" stroke-width="1.2"/>
<line x1="444" y1="11.5" x2="448" y2="16" stroke="#c8a020" stroke-width="2.2"/>
<rect x="437" y="6.5" width="6" height="2" fill="#2a70c0"/>
<rect x="462" y="1" width="7" height="7" fill="#30a030"/><rect x="470" y="1" width="7" height="7" fill="#2060d0"/><rect x="462" y="9" width="7" height="7" fill="#2060d0"/><rect x="470" y="9" width="7" height="7" fill="#30a030"/>
<rect x="463" y="4" width="5" height="3" fill="#e0f0e0"/><rect x="471" y="4" width="5" height="3" fill="#e0e8f8"/><rect x="463" y="12" width="5" height="3" fill="#e0e8f8"/><rect x="471" y="12" width="5" height="3" fill="#e0f0e0"/>
<path d="M500.5,2 v14 M498,15.5 h14 M499,4 l1.5,-2 l1.5,2 M511,14 l1.5,1.5 l-1.5,1.5" fill="none" stroke="#404040" stroke-width="1"/>
<polygon points="505,5 510,9 505,12" fill="none" stroke="#20a020" stroke-width="1.2"/>
<path d="M528.5,2 v14 M526,15.5 h14 M527,4 l1.5,-2 l1.5,2 M539,14 l1.5,1.5 l-1.5,1.5" fill="none" stroke="#404040" stroke-width="1"/>
<path d="M534.5,2 v13" stroke="#3060d0" stroke-width="1"/><path d="M540,9 h-4 M537,7 l-2,2 l2,2" fill="none" stroke="#e04010" stroke-width="1.2"/>
<path d="M559.5,2.5 h7 l3,3 v9 h-10 z" fill="#fff" stroke="#777" stroke-width="1"/>
<path d="M565,9 h3 v3 h3 v3 h-3 v3 h-3 v-3 h-3 v-3 h3 z" fill="#22c022" stroke="#0a8a0a" stroke-width="1"/>
<polygon points="581,8 587,8 584,11" fill="#000"/>
<polygon points="620,8 626,8 623,11" fill="#000"/>
<polygon points="659,8 665,8 662,11" fill="#000"/>
<polygon points="966,8 972,8 969,11" fill="#000"/>
<circle cx="605" cy="9" r="7.5" fill="#2a7ad8" stroke="#1050a0"/><circle cx="605" cy="9" r="5" fill="#f4f8ff"/><path d="M605,6 v3 h3" fill="none" stroke="#333" stroke-width="1"/>
<rect x="636.5" y="2.5" width="15" height="14" fill="#f8f8ff" stroke="#3060b0"/><rect x="637" y="3" width="14" height="2" fill="#4a7ad0"/>
<path d="M638,9 l3,-1 l3,1 l3,-1 l3,1" fill="none" stroke="#c03030"/><path d="M638,14 l3,-1 l3,1 l3,-1 l3,1" fill="none" stroke="#30a030"/>
<polygon points="688,3 696,11 692,11 694,16 692,16 690,12 688,14" fill="#404040"/>
<path d="M720.5,2 v14 M713,9.5 h15" stroke="#404040" stroke-width="1"/>
<path d="M754.5,4 v12 M777,9.5 h13 M805,16 l12,-12" stroke="#404040" stroke-width="1.3"/>
<path d="M831,14 l10,-11 M834,15 l10,-11 M832,9 h12 M832,12 h12" stroke="#404040" stroke-width="1.1"/>
<text x="842" y="18" font-size="7" fill="#404040" font-weight="bold">E</text>
<path d="M860,3.5 h13 M860,6.5 h13 M860,9.5 h13 M860,12.5 h10" stroke="#505050" stroke-width="1" stroke-dasharray="1 1"/>
<text x="869" y="18" font-size="7" fill="#404040" font-weight="bold">F</text>
<text x="890" y="14" font-size="12" fill="#404040" textLength="9" lengthAdjust="spacingAndGlyphs" font-weight="bold">A</text>
<rect x="916.5" y="2.5" width="12" height="13" fill="none" stroke="#606060" stroke-dasharray="1 1"/>
<text x="918.5" y="13.5" font-size="11" fill="#404040" textLength="8" lengthAdjust="spacingAndGlyphs" font-weight="bold">T</text>
<path d="M945,6 l3,-3 l3,3 M948,3 v3 l6,6 M951,12 l3,3 l3,-3" fill="none" stroke="#404040" stroke-width="1.6"/>
</g>
<text x="990.6" y="12.7" font-size="11" fill="#000" textLength="14" lengthAdjust="spacingAndGlyphs">M1</text>
<text x="1019" y="12.7" font-size="11" fill="#000" textLength="13" lengthAdjust="spacingAndGlyphs">M5</text>
<text x="1044.7" y="12.7" font-size="11" fill="#000" textLength="18.7" lengthAdjust="spacingAndGlyphs">M15</text>
<text x="1073" y="12.7" font-size="11" fill="#000" textLength="18" lengthAdjust="spacingAndGlyphs">M30</text>
<text x="1104" y="12.7" font-size="11" fill="#000" textLength="12.7" lengthAdjust="spacingAndGlyphs">H1</text>
<text x="1131" y="12.7" font-size="11" fill="#000" textLength="13" lengthAdjust="spacingAndGlyphs">H4</text>
<text x="1160" y="12.7" font-size="11" fill="#000" textLength="12.5" lengthAdjust="spacingAndGlyphs">D1</text>
<text x="1187.4" y="12.7" font-size="11" fill="#000" textLength="14.6" lengthAdjust="spacingAndGlyphs">W1</text>
<text x="1214" y="12.7" font-size="11" fill="#000" textLength="15.7" lengthAdjust="spacingAndGlyphs">MN</text>
<circle cx="1654.6" cy="6.1" r="3.8" fill="#eef2ff" stroke="#2a5cd0" stroke-width="1.4"/>
<line x1="1647.5" y1="13.5" x2="1652" y2="9" stroke="#2a5cd0" stroke-width="2"/>
<ellipse cx="1677" cy="11" rx="6" ry="5" fill="#e8e8f0" stroke="#a8a8a8"/>
<circle cx="1685.7" cy="6.3" r="8" fill="#e02a18"/>
<text x="1682" y="11.2" font-size="12.5" fill="#fff" class="serif" font-weight="bold">1</text>
</svg></body></html>
